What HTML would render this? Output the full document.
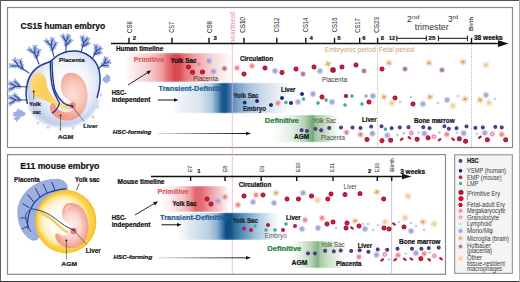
<!DOCTYPE html><html><head><meta charset="utf-8"><style>
html,body{margin:0;padding:0;background:#fff;width:520px;height:282px;overflow:hidden}
svg{display:block}
text{font-family:"Liberation Sans", sans-serif}
</style></head><body>
<svg width="520" height="282" viewBox="0 0 520 282">
<defs>
<radialGradient id="gEry"><stop offset="0" stop-color="#cc2444" stop-opacity="1"/><stop offset="0.5" stop-color="#bc1a3a" stop-opacity="1"/><stop offset="0.72" stop-color="#a8152f" stop-opacity="0.95"/><stop offset="1" stop-color="#a8152f" stop-opacity="0"/></radialGradient>
<radialGradient id="gHsc"><stop offset="0" stop-color="#5a4690" stop-opacity="1"/><stop offset="0.6" stop-color="#4b3a80" stop-opacity="1"/><stop offset="1" stop-color="#4b3a80" stop-opacity="0"/></radialGradient>
<radialGradient id="gYsmp"><stop offset="0" stop-color="#1b2a78" stop-opacity="1"/><stop offset="0.6" stop-color="#1b2a78" stop-opacity="1"/><stop offset="1" stop-color="#1b2a78" stop-opacity="0"/></radialGradient>
<radialGradient id="gEmp"><stop offset="0" stop-color="#c02464" stop-opacity="1"/><stop offset="0.6" stop-color="#b41e5a" stop-opacity="1"/><stop offset="1" stop-color="#b41e5a" stop-opacity="0"/></radialGradient>
<radialGradient id="gLmp"><stop offset="0" stop-color="#3fb0a3" stop-opacity="1"/><stop offset="0.6" stop-color="#3fb0a3" stop-opacity="1"/><stop offset="1" stop-color="#3fb0a3" stop-opacity="0"/></radialGradient>
<radialGradient id="gPrim"><stop offset="0" stop-color="#b8202e" stop-opacity="1"/><stop offset="0.6" stop-color="#a01828" stop-opacity="1"/><stop offset="1" stop-color="#a01828" stop-opacity="0"/></radialGradient>
<radialGradient id="gPrimB"><stop offset="0" stop-color="#e8102c" stop-opacity="1"/><stop offset="0.6" stop-color="#d80c28" stop-opacity="1"/><stop offset="1" stop-color="#d80c28" stop-opacity="0"/></radialGradient>
<radialGradient id="gMk"><stop offset="0" stop-color="#e86c74" stop-opacity="1"/><stop offset="0.45" stop-color="#f0989a" stop-opacity="0.9"/><stop offset="1" stop-color="#f8c8c8" stop-opacity="0"/></radialGradient>
<radialGradient id="gMono"><stop offset="0" stop-color="#9494d0" stop-opacity="1"/><stop offset="0.5" stop-color="#a8a8dc" stop-opacity="0.85"/><stop offset="1" stop-color="#c8c8ec" stop-opacity="0"/></radialGradient>
<radialGradient id="gGran"><stop offset="0" stop-color="#fbe2ee" stop-opacity="1"/><stop offset="0.6" stop-color="#f3b2d0" stop-opacity="0.8"/><stop offset="1" stop-color="#f3b2d0" stop-opacity="0"/></radialGradient>
<radialGradient id="gLym"><stop offset="0" stop-color="#96cde0" stop-opacity="1"/><stop offset="0.6" stop-color="#b6dcea" stop-opacity="0.8"/><stop offset="1" stop-color="#d0ecf4" stop-opacity="0"/></radialGradient>
<radialGradient id="gHof"><stop offset="0" stop-color="#986070" stop-opacity="1"/><stop offset="0.6" stop-color="#b08090" stop-opacity="0.8"/><stop offset="1" stop-color="#d0b0b8" stop-opacity="0"/></radialGradient>
<radialGradient id="gPeach"><stop offset="0" stop-color="#f6d8a8" stop-opacity="0.95"/><stop offset="0.6" stop-color="#f9e4c4" stop-opacity="0.7"/><stop offset="1" stop-color="#fdf0dc" stop-opacity="0"/></radialGradient>
<radialGradient id="gStarG"><stop offset="0" stop-color="#eebf80" stop-opacity="0.75"/><stop offset="0.6" stop-color="#f6dcb4" stop-opacity="0.45"/><stop offset="1" stop-color="#fbe8d4" stop-opacity="0"/></radialGradient>
<radialGradient id="gStarC"><stop offset="0" stop-color="#d39645" stop-opacity="1"/><stop offset="0.6" stop-color="#dca35a" stop-opacity="0.8"/><stop offset="1" stop-color="#e8b070" stop-opacity="0"/></radialGradient>
<radialGradient id="gPeachC"><stop offset="0" stop-color="#ecc07a" stop-opacity="1"/><stop offset="0.6" stop-color="#f0cb90" stop-opacity="0.7"/><stop offset="1" stop-color="#f4d8a8" stop-opacity="0"/></radialGradient>
<linearGradient id="gRedT" x1="0" y1="0" x2="1" y2="0"><stop offset="0" stop-color="#fbe4e4" stop-opacity="0"/><stop offset="0.055" stop-color="#fdeeee" stop-opacity="1"/><stop offset="0.22" stop-color="#f7caca" stop-opacity="1"/><stop offset="0.33" stop-color="#ee9a9c" stop-opacity="1"/><stop offset="0.38" stop-color="#e46e74" stop-opacity="1"/><stop offset="0.445" stop-color="#da4450" stop-opacity="1"/><stop offset="0.49" stop-color="#de4e57" stop-opacity="1"/><stop offset="0.535" stop-color="#e8747a" stop-opacity="1"/><stop offset="0.65" stop-color="#f2a8aa" stop-opacity="1"/><stop offset="0.78" stop-color="#f8d4d4" stop-opacity="1"/><stop offset="0.9" stop-color="#fdf0f0" stop-opacity="1"/><stop offset="1" stop-color="#ffffff" stop-opacity="0"/></linearGradient>
<linearGradient id="gBlueT" x1="0" y1="0" x2="1" y2="0"><stop offset="0" stop-color="#eef3f8" stop-opacity="0"/><stop offset="0.06" stop-color="#eef3f8" stop-opacity="1"/><stop offset="0.22" stop-color="#d8e4ef" stop-opacity="1"/><stop offset="0.31" stop-color="#aec6dc" stop-opacity="1"/><stop offset="0.36" stop-color="#5a8cbc" stop-opacity="1"/><stop offset="0.39" stop-color="#1a5a90" stop-opacity="1"/><stop offset="0.42" stop-color="#165286" stop-opacity="1"/><stop offset="0.45" stop-color="#3a74a8" stop-opacity="1"/><stop offset="0.47" stop-color="#5a8cbc" stop-opacity="1"/><stop offset="0.52" stop-color="#7ea6cc" stop-opacity="1"/><stop offset="0.6" stop-color="#a6c2dc" stop-opacity="1"/><stop offset="0.72" stop-color="#d0dde9" stop-opacity="1"/><stop offset="0.85" stop-color="#eef3f8" stop-opacity="1"/><stop offset="1" stop-color="#ffffff" stop-opacity="0"/></linearGradient>
<linearGradient id="gGreenT" x1="0" y1="0" x2="1" y2="0"><stop offset="0" stop-color="#ffffff" stop-opacity="0"/><stop offset="0.167" stop-color="#f3f8f2" stop-opacity="1"/><stop offset="0.347" stop-color="#e0ecdf" stop-opacity="1"/><stop offset="0.514" stop-color="#b4d0b2" stop-opacity="1"/><stop offset="0.597" stop-color="#80b185" stop-opacity="1"/><stop offset="0.625" stop-color="#72a77a" stop-opacity="1"/><stop offset="0.653" stop-color="#a0c4a0" stop-opacity="1"/><stop offset="0.792" stop-color="#c8dcc4" stop-opacity="1"/><stop offset="0.931" stop-color="#eef4ec" stop-opacity="1"/><stop offset="1" stop-color="#ffffff" stop-opacity="0"/></linearGradient>
<linearGradient id="gRedM" x1="0" y1="0" x2="1" y2="0"><stop offset="0" stop-color="#ffffff" stop-opacity="0"/><stop offset="0.2" stop-color="#fcecec" stop-opacity="1"/><stop offset="0.35" stop-color="#f5c8ca" stop-opacity="1"/><stop offset="0.45" stop-color="#ee9ca0" stop-opacity="1"/><stop offset="0.52" stop-color="#e2646e" stop-opacity="1"/><stop offset="0.6" stop-color="#e46c74" stop-opacity="1"/><stop offset="0.7" stop-color="#ec9a9e" stop-opacity="1"/><stop offset="0.85" stop-color="#f6d0d2" stop-opacity="1"/><stop offset="1" stop-color="#ffffff" stop-opacity="0"/></linearGradient>
<linearGradient id="gBlueM" x1="0" y1="0" x2="1" y2="0"><stop offset="0" stop-color="#e8eff5" stop-opacity="0"/><stop offset="0.12" stop-color="#e0eaf2" stop-opacity="1"/><stop offset="0.3" stop-color="#bcd0e2" stop-opacity="1"/><stop offset="0.38" stop-color="#8fb0d0" stop-opacity="1"/><stop offset="0.43" stop-color="#3f78aa" stop-opacity="1"/><stop offset="0.465" stop-color="#0e4c82" stop-opacity="1"/><stop offset="0.51" stop-color="#125289" stop-opacity="1"/><stop offset="0.545" stop-color="#2c6c9c" stop-opacity="1"/><stop offset="0.62" stop-color="#5890bc" stop-opacity="1"/><stop offset="0.72" stop-color="#96bcd6" stop-opacity="1"/><stop offset="0.86" stop-color="#d8e8f0" stop-opacity="1"/><stop offset="1" stop-color="#ffffff" stop-opacity="0"/></linearGradient>
<linearGradient id="gGreenM" x1="0" y1="0" x2="1" y2="0"><stop offset="0" stop-color="#ffffff" stop-opacity="0"/><stop offset="0.133" stop-color="#f2f7f1" stop-opacity="1"/><stop offset="0.25" stop-color="#dbe9d7" stop-opacity="1"/><stop offset="0.367" stop-color="#bdd7ba" stop-opacity="1"/><stop offset="0.467" stop-color="#8fbd92" stop-opacity="1"/><stop offset="0.5" stop-color="#82b487" stop-opacity="1"/><stop offset="0.533" stop-color="#a6caa4" stop-opacity="1"/><stop offset="0.683" stop-color="#cfe1cb" stop-opacity="1"/><stop offset="0.833" stop-color="#e9f1e7" stop-opacity="1"/><stop offset="1" stop-color="#ffffff" stop-opacity="0"/></linearGradient>
<linearGradient id="gV" x1="0" y1="0" x2="0" y2="1"><stop offset="0" stop-color="#fff" stop-opacity="0.6"/><stop offset="0.06" stop-color="#fff" stop-opacity="1"/><stop offset="0.94" stop-color="#fff" stop-opacity="1"/><stop offset="1" stop-color="#fff" stop-opacity="0.6"/></linearGradient>
<mask id="mV" maskContentUnits="objectBoundingBox"><rect x="0" y="0" width="1" height="1" fill="url(#gV)"/></mask>
<radialGradient id="gSac" cx="0.55" cy="0.45" r="0.55"><stop offset="0" stop-color="#ffffff"/><stop offset="0.55" stop-color="#f2f5fc"/><stop offset="0.82" stop-color="#d9e1f4"/><stop offset="1" stop-color="#bfcbea"/></radialGradient>
<radialGradient id="gEmb" cx="0.62" cy="0.45" r="0.62"><stop offset="0" stop-color="#fbe0d8"/><stop offset="0.45" stop-color="#f8c6b8"/><stop offset="0.8" stop-color="#f3a08c"/><stop offset="1" stop-color="#f29a86"/></radialGradient>
<radialGradient id="gYolk"><stop offset="0" stop-color="#f8cd58" stop-opacity="1"/><stop offset="0.7" stop-color="#f9d264" stop-opacity="1"/><stop offset="1" stop-color="#fada80" stop-opacity="1"/></radialGradient>
<radialGradient id="gMYolk"><stop offset="0" stop-color="#ffffff" stop-opacity="1"/><stop offset="0.55" stop-color="#fffbf0" stop-opacity="1"/><stop offset="0.8" stop-color="#fdf1c8" stop-opacity="1"/><stop offset="0.93" stop-color="#fce48a" stop-opacity="1"/><stop offset="1" stop-color="#fbd85a" stop-opacity="1"/></radialGradient>
<radialGradient id="gMRing"><stop offset="0" stop-color="#fde070" stop-opacity="1"/><stop offset="0.85" stop-color="#fbd548" stop-opacity="1"/><stop offset="1" stop-color="#f7c63a" stop-opacity="1"/></radialGradient>
<radialGradient id="gMEmb"><stop offset="0" stop-color="#fef0ec" stop-opacity="1"/><stop offset="0.5" stop-color="#fbd8d0" stop-opacity="1"/><stop offset="0.8" stop-color="#f5b4a6" stop-opacity="1"/><stop offset="1" stop-color="#f19c8a" stop-opacity="1"/></radialGradient>
<filter id="fb0" x="-50%" y="-50%" width="200%" height="200%"><feGaussianBlur stdDeviation="0.35"/></filter>
<filter id="fb1" x="-50%" y="-50%" width="200%" height="200%"><feGaussianBlur stdDeviation="0.8"/></filter>
<linearGradient id="gArr" x1="0" y1="0" x2="1" y2="0"><stop offset="0" stop-color="#dddddd" stop-opacity="1"/><stop offset="0.5" stop-color="#777777" stop-opacity="1"/><stop offset="1" stop-color="#111111" stop-opacity="1"/></linearGradient>
</defs>
<rect x="0" y="0" width="520" height="282" fill="#fff"/>
<line x1="0" y1="0.5" x2="520" y2="0.5" stroke="#505050" stroke-width="1"/>
<line x1="0.5" y1="0" x2="0.5" y2="282" stroke="#606060" stroke-width="1"/>
<line x1="0" y1="281.5" x2="520" y2="281.5" stroke="#404040" stroke-width="1"/>
<line x1="519.5" y1="0" x2="519.5" y2="282" stroke="#b0b0b0" stroke-width="1"/>
<rect x="7.5" y="7.5" width="505" height="140" fill="#fff" stroke="#8a8a8a" stroke-width="1.2"/>
<rect x="7.5" y="154.6" width="438" height="119.7" fill="#fff" stroke="#8a8a8a" stroke-width="1.2"/>
<rect x="454.6" y="154.8" width="57.8" height="118.6" fill="#f4f4f4" stroke="#9a9a9a" stroke-width="1.2"/>
<text x="20.6" y="29.2" font-size="9.4" font-weight="bold" font-style="normal" fill="#111" text-anchor="start" textLength="84.6" lengthAdjust="spacingAndGlyphs" stroke="#111" stroke-width="0.22">CS15 human embryo</text>
<rect x="126" y="53" width="110" height="29" fill="url(#gRedT)" mask="url(#mV)"/>
<rect x="172" y="82.5" width="128" height="31" fill="url(#gBlueT)" mask="url(#mV)"/>
<rect x="268" y="114.7" width="72" height="27.8" fill="url(#gGreenT)" mask="url(#mV)"/>
<line x1="232.3" y1="44" x2="232.3" y2="274" stroke="#eab0c4" stroke-width="0.8"/>
<text transform="translate(234.8,44) rotate(-90)" font-size="6.8" font-weight="normal" fill="#ee8fae" stroke="#ee8fae" stroke-width="0" textLength="32" lengthAdjust="spacingAndGlyphs">heartbeat</text>
<line x1="377.6" y1="44" x2="377.6" y2="147" stroke="#c8b890" stroke-width="0.9" stroke-dasharray="1,1"/>
<line x1="471.5" y1="44" x2="471.5" y2="147" stroke="#9aa8c8" stroke-width="0.8" stroke-dasharray="1,1"/>
<line x1="111" y1="43.6" x2="503" y2="43.6" stroke="#111" stroke-width="1.5"/>
<path d="M498,40.2 L508.5,43.6 L498,47 Z" fill="#111"/>
<line x1="129" y1="37.8" x2="129" y2="43.6" stroke="#111" stroke-width="1.4"/>
<line x1="172" y1="37.8" x2="172" y2="43.6" stroke="#111" stroke-width="1.4"/>
<line x1="209" y1="37.8" x2="209" y2="43.6" stroke="#111" stroke-width="1.4"/>
<line x1="244" y1="37.8" x2="244" y2="43.6" stroke="#111" stroke-width="1.4"/>
<line x1="276.8" y1="37.8" x2="276.8" y2="43.6" stroke="#111" stroke-width="1.4"/>
<line x1="305.8" y1="37.8" x2="305.8" y2="43.6" stroke="#111" stroke-width="1.4"/>
<line x1="334.5" y1="37.8" x2="334.5" y2="43.6" stroke="#111" stroke-width="1.4"/>
<line x1="359.7" y1="37.8" x2="359.7" y2="43.6" stroke="#111" stroke-width="1.4"/>
<line x1="377.6" y1="37.8" x2="377.6" y2="43.6" stroke="#111" stroke-width="1.4"/>
<line x1="471.5" y1="37.8" x2="471.5" y2="43.6" stroke="#111" stroke-width="1.4"/>
<text transform="translate(132.2,33) rotate(-90)" font-size="6.3" font-weight="normal" fill="#2a2a2a" stroke="#2a2a2a" stroke-width="0.04" textLength="11.8" lengthAdjust="spacingAndGlyphs">CS6</text>
<text transform="translate(174.3,32.7) rotate(-90)" font-size="6.3" font-weight="normal" fill="#2a2a2a" stroke="#2a2a2a" stroke-width="0.04" textLength="10.7" lengthAdjust="spacingAndGlyphs">CS7</text>
<text transform="translate(212.1,33) rotate(-90)" font-size="6.3" font-weight="normal" fill="#2a2a2a" stroke="#2a2a2a" stroke-width="0.04" textLength="11.8" lengthAdjust="spacingAndGlyphs">CS8</text>
<text transform="translate(245.4,32.7) rotate(-90)" font-size="6.3" font-weight="normal" fill="#2a2a2a" stroke="#2a2a2a" stroke-width="0.04" textLength="15.7" lengthAdjust="spacingAndGlyphs">CS10</text>
<text transform="translate(279.2,32.3) rotate(-90)" font-size="6.3" font-weight="normal" fill="#2a2a2a" stroke="#2a2a2a" stroke-width="0.04" textLength="14.6" lengthAdjust="spacingAndGlyphs">CS12</text>
<text transform="translate(308,32.3) rotate(-90)" font-size="6.3" font-weight="normal" fill="#2a2a2a" stroke="#2a2a2a" stroke-width="0.04" textLength="14.6" lengthAdjust="spacingAndGlyphs">CS14</text>
<text transform="translate(336.5,32.3) rotate(-90)" font-size="6.3" font-weight="normal" fill="#2a2a2a" stroke="#2a2a2a" stroke-width="0.04" textLength="14.6" lengthAdjust="spacingAndGlyphs">CS16</text>
<text transform="translate(360.1,32.7) rotate(-90)" font-size="6.3" font-weight="normal" fill="#2a2a2a" stroke="#2a2a2a" stroke-width="0.04" textLength="14.4" lengthAdjust="spacingAndGlyphs">CS17</text>
<text transform="translate(378.5,32.7) rotate(-90)" font-size="6.3" font-weight="normal" fill="#2a2a2a" stroke="#2a2a2a" stroke-width="0.04" textLength="15.7" lengthAdjust="spacingAndGlyphs">CS23</text>
<text transform="translate(472.5,31.1) rotate(-90)" font-size="6.2" font-weight="bold" fill="#555" stroke="#555" stroke-width="0.12" textLength="14.4" lengthAdjust="spacingAndGlyphs">Birth</text>
<text x="132.8" y="40.3" font-size="6.2" font-weight="bold" font-style="normal" fill="#111" text-anchor="start" textLength="3.3" lengthAdjust="spacingAndGlyphs" stroke="#111" stroke-width="0.22">2</text>
<text x="213.4" y="40.3" font-size="6.2" font-weight="bold" font-style="normal" fill="#111" text-anchor="start" textLength="3.3" lengthAdjust="spacingAndGlyphs" stroke="#111" stroke-width="0.22">3</text>
<text x="309.6" y="40.3" font-size="6.2" font-weight="bold" font-style="normal" fill="#111" text-anchor="start" textLength="3.3" lengthAdjust="spacingAndGlyphs" stroke="#111" stroke-width="0.22">4</text>
<text x="337.3" y="40.3" font-size="6.2" font-weight="bold" font-style="normal" fill="#111" text-anchor="start" textLength="3.3" lengthAdjust="spacingAndGlyphs" stroke="#111" stroke-width="0.22">5</text>
<text x="362.2" y="40.3" font-size="6.2" font-weight="bold" font-style="normal" fill="#111" text-anchor="start" textLength="3.2" lengthAdjust="spacingAndGlyphs" stroke="#111" stroke-width="0.22">6</text>
<text x="380.8" y="40.3" font-size="6.2" font-weight="bold" font-style="normal" fill="#111" text-anchor="start" textLength="3.2" lengthAdjust="spacingAndGlyphs" stroke="#111" stroke-width="0.22">8</text>
<text x="389" y="40.3" font-size="6.2" font-weight="bold" font-style="normal" fill="#111" text-anchor="start" textLength="6.0" lengthAdjust="spacingAndGlyphs" stroke="#111" stroke-width="0.22">12</text>
<text x="428.5" y="40.3" font-size="6.2" font-weight="bold" font-style="normal" fill="#111" text-anchor="start" textLength="6.8" lengthAdjust="spacingAndGlyphs" stroke="#111" stroke-width="0.22">25</text>
<text x="473.9" y="40.3" font-size="6.3" font-weight="bold" font-style="normal" fill="#111" text-anchor="start" textLength="28.9" lengthAdjust="spacingAndGlyphs" stroke="#111" stroke-width="0.22">38 weeks</text>
<line x1="396.8" y1="38.3" x2="426.3" y2="38.3" stroke="#111" stroke-width="1"/>
<line x1="396.8" y1="35.6" x2="396.8" y2="41" stroke="#111" stroke-width="1"/>
<line x1="426.3" y1="35.6" x2="426.3" y2="41" stroke="#111" stroke-width="1"/>
<line x1="438.4" y1="38.3" x2="467.4" y2="38.3" stroke="#111" stroke-width="1"/>
<line x1="438.4" y1="35.6" x2="438.4" y2="41" stroke="#111" stroke-width="1"/>
<line x1="467.4" y1="35.6" x2="467.4" y2="41" stroke="#111" stroke-width="1"/>
<text x="407" y="22.1" font-size="8.8" font-weight="normal" font-style="normal" fill="#333" text-anchor="start" textLength="4.8" lengthAdjust="spacingAndGlyphs">2</text>
<text x="412" y="19.3" font-size="6.0" font-weight="normal" font-style="normal" fill="#333" text-anchor="start" textLength="7.3" lengthAdjust="spacingAndGlyphs">nd</text>
<text x="447.9" y="22.1" font-size="8.8" font-weight="normal" font-style="normal" fill="#333" text-anchor="start" textLength="4.6" lengthAdjust="spacingAndGlyphs">3</text>
<text x="452.4" y="19.3" font-size="6.0" font-weight="normal" font-style="normal" fill="#333" text-anchor="start" textLength="5.8" lengthAdjust="spacingAndGlyphs">rd</text>
<text x="414.8" y="29.7" font-size="8.6" font-weight="normal" font-style="normal" fill="#333" text-anchor="start" textLength="33.8" lengthAdjust="spacingAndGlyphs">trimester</text>
<text x="116" y="51" font-size="6.3" font-weight="bold" font-style="normal" fill="#111" text-anchor="start" textLength="47.2" lengthAdjust="spacingAndGlyphs" stroke="#111" stroke-width="0.22">Human timeline</text>
<text x="324.8" y="51.5" font-size="6.7" font-weight="normal" font-style="normal" fill="#c9a06c" text-anchor="start" textLength="51" lengthAdjust="spacingAndGlyphs">Embryonic period</text>
<text x="378.7" y="51.5" font-size="6.7" font-weight="normal" font-style="normal" fill="#c9a06c" text-anchor="start" textLength="35.5" lengthAdjust="spacingAndGlyphs">Fetal period</text>
<text x="133.8" y="62.1" font-size="7.3" font-weight="bold" font-style="normal" fill="#e05862" text-anchor="start" textLength="30.5" lengthAdjust="spacingAndGlyphs" stroke="#e05862" stroke-width="0.22">Primitive</text>
<text x="170.4" y="62.8" font-size="6.3" font-weight="bold" font-style="normal" fill="#111" text-anchor="start" textLength="26.2" lengthAdjust="spacingAndGlyphs" stroke="#111" stroke-width="0.22">Yolk Sac</text>
<text x="193" y="80.5" font-size="6.3" font-weight="normal" font-style="normal" fill="#4a3035" text-anchor="start" textLength="25" lengthAdjust="spacingAndGlyphs">Placenta</text>
<text x="240" y="61.2" font-size="6.6" font-weight="bold" font-style="normal" fill="#111" text-anchor="start" textLength="33" lengthAdjust="spacingAndGlyphs" stroke="#111" stroke-width="0.22">Circulation</text>
<text x="322" y="81.5" font-size="6.3" font-weight="normal" font-style="normal" fill="#333" text-anchor="start" textLength="25" lengthAdjust="spacingAndGlyphs">Placenta</text>
<text x="111.8" y="94.7" font-size="6.7" font-weight="bold" font-style="normal" fill="#111" text-anchor="start" textLength="14.4" lengthAdjust="spacingAndGlyphs" stroke="#111" stroke-width="0.22">HSC-</text>
<text x="111.8" y="101.6" font-size="6.4" font-weight="bold" font-style="normal" fill="#111" text-anchor="start" textLength="38.5" lengthAdjust="spacingAndGlyphs" stroke="#111" stroke-width="0.22">independent</text>
<line x1="158" y1="100" x2="175" y2="100" stroke="#111" stroke-width="1"/>
<path d="M174,98.2 L178.5,100 L174,101.8 Z" fill="#111"/>
<text x="158.5" y="91" font-size="7.3" font-weight="bold" font-style="normal" fill="#1f5d96" text-anchor="start" textLength="69" lengthAdjust="spacingAndGlyphs" stroke="#1f5d96" stroke-width="0.22">Transient-Definitive</text>
<text x="233.5" y="98.3" font-size="6.3" font-weight="bold" font-style="normal" fill="#1c2433" text-anchor="start" textLength="25" lengthAdjust="spacingAndGlyphs" stroke="#1c2433" stroke-width="0.22">Yolk Sac</text>
<text x="243" y="111" font-size="6.3" font-weight="bold" font-style="normal" fill="#1c2433" text-anchor="start" textLength="23" lengthAdjust="spacingAndGlyphs" stroke="#1c2433" stroke-width="0.22">Embryo</text>
<text x="281" y="92.3" font-size="6.6" font-weight="bold" font-style="normal" fill="#111" text-anchor="start" textLength="14.4" lengthAdjust="spacingAndGlyphs" stroke="#111" stroke-width="0.22">Liver</text>
<text x="112.8" y="134.1" font-size="6.1" font-weight="bold" font-style="italic" fill="#111" text-anchor="start" textLength="38.5" lengthAdjust="spacingAndGlyphs" stroke="#111" stroke-width="0.22">HSC-forming</text>
<rect x="158" y="133" width="89" height="1" fill="url(#gArr)"/>
<path d="M246,131.7 L251,133.5 L246,135.3 Z" fill="#111"/>
<text x="264.8" y="122.5" font-size="7.3" font-weight="bold" font-style="normal" fill="#1f7d40" text-anchor="start" textLength="34" lengthAdjust="spacingAndGlyphs" stroke="#1f7d40" stroke-width="0.22">Definitive</text>
<text x="294" y="138.6" font-size="6.6" font-weight="bold" font-style="normal" fill="#111" text-anchor="start" textLength="15" lengthAdjust="spacingAndGlyphs" stroke="#111" stroke-width="0.22">AGM</text>
<text x="313" y="122.5" font-size="6.3" font-weight="normal" font-style="normal" fill="#3c4a3c" text-anchor="start" textLength="23" lengthAdjust="spacingAndGlyphs">Yolk Sac</text>
<text x="321" y="140.4" font-size="6.3" font-weight="normal" font-style="normal" fill="#444" text-anchor="start" textLength="24" lengthAdjust="spacingAndGlyphs">Placenta</text>
<text x="362" y="122.3" font-size="6.6" font-weight="bold" font-style="normal" fill="#111" text-anchor="start" textLength="14.5" lengthAdjust="spacingAndGlyphs" stroke="#111" stroke-width="0.22">Liver</text>
<text x="414" y="123" font-size="6.6" font-weight="bold" font-style="normal" fill="#111" text-anchor="start" textLength="40.6" lengthAdjust="spacingAndGlyphs" stroke="#111" stroke-width="0.22">Bone marrow</text>
<line x1="128" y1="85" x2="148.5" y2="72" stroke="#111" stroke-width="0.9"/>
<path d="M151,70.3 L146.3,71.4 L148.6,74.6 Z" fill="#111"/>
<circle cx="188.5" cy="67" r="2.95" fill="url(#gEry)"/>
<circle cx="192.5" cy="72.2" r="2.95" fill="url(#gEry)"/>
<circle cx="202.5" cy="72" r="2.95" fill="url(#gEry)"/>
<circle cx="199" cy="64" r="3.9" fill="url(#gMk)"/>
<circle cx="209" cy="61" r="3.9" fill="url(#gMono)"/>
<circle cx="213.5" cy="71.5" r="3.9" fill="url(#gMono)"/>
<circle cx="224.5" cy="68.5" r="3.3" fill="url(#gHof)"/>
<circle cx="237" cy="68" r="3.9" fill="url(#gMk)"/>
<circle cx="244" cy="74" r="2.95" fill="url(#gEry)"/>
<circle cx="252" cy="66" r="3.9" fill="url(#gMk)"/>
<circle cx="265" cy="68" r="2.95" fill="url(#gEry)"/>
<circle cx="275" cy="71" r="3.9" fill="url(#gMono)"/>
<circle cx="282" cy="72.5" r="2.95" fill="url(#gEry)"/>
<circle cx="296" cy="69" r="2.95" fill="url(#gEry)"/>
<circle cx="303" cy="74" r="3.3" fill="url(#gHof)"/>
<circle cx="314" cy="67" r="2.95" fill="url(#gEry)"/>
<circle cx="320" cy="71" r="3.9" fill="url(#gMono)"/>
<circle cx="328" cy="64" r="4" fill="url(#gStarG)"/>
<line x1="325.06" y1="62.30" x2="330.94" y2="65.70" stroke="#d99a52" stroke-width="0.8" stroke-linecap="round" opacity="0.5"/>
<line x1="327.41" y1="60.65" x2="328.59" y2="67.35" stroke="#d99a52" stroke-width="0.8" stroke-linecap="round" opacity="0.5"/>
<line x1="330.40" y1="61.60" x2="325.60" y2="66.40" stroke="#d99a52" stroke-width="0.8" stroke-linecap="round" opacity="0.5"/>
<line x1="331.28" y1="63.12" x2="324.72" y2="64.88" stroke="#d99a52" stroke-width="0.8" stroke-linecap="round" opacity="0.5"/>
<circle cx="328" cy="64" r="1.8" fill="url(#gStarC)"/>
<circle cx="333" cy="70" r="3.6" fill="url(#gPrim)"/>
<circle cx="342" cy="67" r="2.95" fill="url(#gEry)"/>
<circle cx="356" cy="65" r="2.95" fill="url(#gEry)"/>
<circle cx="364" cy="71" r="3.3" fill="url(#gHof)"/>
<circle cx="382" cy="69" r="2.95" fill="url(#gEry)"/>
<circle cx="389" cy="63" r="4" fill="url(#gStarG)"/>
<line x1="386.06" y1="61.30" x2="391.94" y2="64.70" stroke="#d99a52" stroke-width="0.8" stroke-linecap="round" opacity="0.5"/>
<line x1="388.41" y1="59.65" x2="389.59" y2="66.35" stroke="#d99a52" stroke-width="0.8" stroke-linecap="round" opacity="0.5"/>
<line x1="391.40" y1="60.60" x2="386.60" y2="65.40" stroke="#d99a52" stroke-width="0.8" stroke-linecap="round" opacity="0.5"/>
<line x1="392.28" y1="62.12" x2="385.72" y2="63.88" stroke="#d99a52" stroke-width="0.8" stroke-linecap="round" opacity="0.5"/>
<circle cx="389" cy="63" r="1.8" fill="url(#gStarC)"/>
<circle cx="405" cy="69" r="3.3" fill="url(#gHof)"/>
<circle cx="429" cy="63" r="4" fill="url(#gStarG)"/>
<line x1="426.06" y1="61.30" x2="431.94" y2="64.70" stroke="#d99a52" stroke-width="0.8" stroke-linecap="round" opacity="0.5"/>
<line x1="428.41" y1="59.65" x2="429.59" y2="66.35" stroke="#d99a52" stroke-width="0.8" stroke-linecap="round" opacity="0.5"/>
<line x1="431.40" y1="60.60" x2="426.60" y2="65.40" stroke="#d99a52" stroke-width="0.8" stroke-linecap="round" opacity="0.5"/>
<line x1="432.28" y1="62.12" x2="425.72" y2="63.88" stroke="#d99a52" stroke-width="0.8" stroke-linecap="round" opacity="0.5"/>
<circle cx="429" cy="63" r="1.8" fill="url(#gStarC)"/>
<circle cx="442" cy="70" r="3.3" fill="url(#gHof)"/>
<circle cx="463" cy="62" r="4" fill="url(#gStarG)"/>
<line x1="460.06" y1="60.30" x2="465.94" y2="63.70" stroke="#d99a52" stroke-width="0.8" stroke-linecap="round" opacity="0.5"/>
<line x1="462.41" y1="58.65" x2="463.59" y2="65.35" stroke="#d99a52" stroke-width="0.8" stroke-linecap="round" opacity="0.5"/>
<line x1="465.40" y1="59.60" x2="460.60" y2="64.40" stroke="#d99a52" stroke-width="0.8" stroke-linecap="round" opacity="0.5"/>
<line x1="466.28" y1="61.12" x2="459.72" y2="62.88" stroke="#d99a52" stroke-width="0.8" stroke-linecap="round" opacity="0.5"/>
<circle cx="463" cy="62" r="1.8" fill="url(#gStarC)"/>
<circle cx="486" cy="65" r="4.4" fill="url(#gPeach)"/>
<line x1="483.06" y1="63.30" x2="488.94" y2="66.70" stroke="#ebc080" stroke-width="0.8" stroke-linecap="round" opacity="0.4"/>
<line x1="485.41" y1="61.65" x2="486.59" y2="68.35" stroke="#ebc080" stroke-width="0.8" stroke-linecap="round" opacity="0.4"/>
<line x1="488.40" y1="62.60" x2="483.60" y2="67.40" stroke="#ebc080" stroke-width="0.8" stroke-linecap="round" opacity="0.4"/>
<line x1="489.28" y1="64.12" x2="482.72" y2="65.88" stroke="#ebc080" stroke-width="0.8" stroke-linecap="round" opacity="0.4"/>
<circle cx="486" cy="65" r="1.8" fill="url(#gPeachC)"/>
<circle cx="244.6" cy="102.6" r="2.4" fill="url(#gYsmp)"/>
<circle cx="257" cy="101" r="2.4" fill="url(#gYsmp)"/>
<circle cx="271" cy="105" r="2.4" fill="url(#gYsmp)"/>
<circle cx="278" cy="103" r="3.9" fill="url(#gMk)"/>
<circle cx="282" cy="98" r="2.4" fill="url(#gYsmp)"/>
<circle cx="286" cy="102.5" r="2.2" fill="url(#gLmp)"/>
<circle cx="291" cy="103" r="2.4" fill="url(#gYsmp)"/>
<circle cx="298" cy="102" r="3.9" fill="url(#gMono)"/>
<circle cx="302" cy="94" r="2.4" fill="url(#gYsmp)"/>
<circle cx="303.5" cy="99" r="2.2" fill="url(#gLmp)"/>
<circle cx="313" cy="94" r="3.9" fill="url(#gMono)"/>
<circle cx="322" cy="97" r="2.95" fill="url(#gEry)"/>
<circle cx="318" cy="103" r="2.2" fill="url(#gLmp)"/>
<circle cx="326" cy="100" r="2.2" fill="url(#gLmp)"/>
<circle cx="332" cy="102" r="3.9" fill="url(#gMono)"/>
<circle cx="346" cy="96" r="2.5" fill="url(#gEry)"/>
<circle cx="345" cy="105" r="2.2" fill="url(#gLmp)"/>
<circle cx="352" cy="96" r="2.2" fill="url(#gLmp)"/>
<circle cx="362" cy="104" r="2.2" fill="url(#gLmp)"/>
<circle cx="366" cy="96" r="2.6" fill="url(#gMono)"/>
<circle cx="369" cy="102" r="2.95" fill="url(#gEry)"/>
<circle cx="373" cy="96" r="3.9" fill="url(#gMono)"/>
<circle cx="384" cy="97" r="4" fill="url(#gStarG)"/>
<line x1="381.06" y1="95.30" x2="386.94" y2="98.70" stroke="#d99a52" stroke-width="0.8" stroke-linecap="round" opacity="0.5"/>
<line x1="383.41" y1="93.65" x2="384.59" y2="100.35" stroke="#d99a52" stroke-width="0.8" stroke-linecap="round" opacity="0.5"/>
<line x1="386.40" y1="94.60" x2="381.60" y2="99.40" stroke="#d99a52" stroke-width="0.8" stroke-linecap="round" opacity="0.5"/>
<line x1="387.28" y1="96.12" x2="380.72" y2="97.88" stroke="#d99a52" stroke-width="0.8" stroke-linecap="round" opacity="0.5"/>
<circle cx="384" cy="97" r="1.8" fill="url(#gStarC)"/>
<circle cx="395" cy="98" r="2.95" fill="url(#gEry)"/>
<circle cx="392" cy="103" r="4.4" fill="url(#gPeach)"/>
<line x1="389.06" y1="101.30" x2="394.94" y2="104.70" stroke="#ebc080" stroke-width="0.8" stroke-linecap="round" opacity="0.4"/>
<line x1="391.41" y1="99.65" x2="392.59" y2="106.35" stroke="#ebc080" stroke-width="0.8" stroke-linecap="round" opacity="0.4"/>
<line x1="394.40" y1="100.60" x2="389.60" y2="105.40" stroke="#ebc080" stroke-width="0.8" stroke-linecap="round" opacity="0.4"/>
<line x1="395.28" y1="102.12" x2="388.72" y2="103.88" stroke="#ebc080" stroke-width="0.8" stroke-linecap="round" opacity="0.4"/>
<circle cx="392" cy="103" r="1.8" fill="url(#gPeachC)"/>
<circle cx="400" cy="102" r="2.0" fill="url(#gLym)"/>
<circle cx="411" cy="97" r="2.0" fill="url(#gLym)"/>
<circle cx="413" cy="104" r="2.95" fill="url(#gEry)"/>
<circle cx="423" cy="104" r="3.9" fill="url(#gMono)"/>
<circle cx="430" cy="97" r="4" fill="url(#gStarG)"/>
<line x1="427.06" y1="95.30" x2="432.94" y2="98.70" stroke="#d99a52" stroke-width="0.8" stroke-linecap="round" opacity="0.5"/>
<line x1="429.41" y1="93.65" x2="430.59" y2="100.35" stroke="#d99a52" stroke-width="0.8" stroke-linecap="round" opacity="0.5"/>
<line x1="432.40" y1="94.60" x2="427.60" y2="99.40" stroke="#d99a52" stroke-width="0.8" stroke-linecap="round" opacity="0.5"/>
<line x1="433.28" y1="96.12" x2="426.72" y2="97.88" stroke="#d99a52" stroke-width="0.8" stroke-linecap="round" opacity="0.5"/>
<circle cx="430" cy="97" r="1.8" fill="url(#gStarC)"/>
<circle cx="438" cy="103" r="2.0" fill="url(#gLym)"/>
<circle cx="447" cy="100" r="3.9" fill="url(#gMono)"/>
<circle cx="453" cy="106" r="4.4" fill="url(#gPeach)"/>
<line x1="450.06" y1="104.30" x2="455.94" y2="107.70" stroke="#ebc080" stroke-width="0.8" stroke-linecap="round" opacity="0.4"/>
<line x1="452.41" y1="102.65" x2="453.59" y2="109.35" stroke="#ebc080" stroke-width="0.8" stroke-linecap="round" opacity="0.4"/>
<line x1="455.40" y1="103.60" x2="450.60" y2="108.40" stroke="#ebc080" stroke-width="0.8" stroke-linecap="round" opacity="0.4"/>
<line x1="456.28" y1="105.12" x2="449.72" y2="106.88" stroke="#ebc080" stroke-width="0.8" stroke-linecap="round" opacity="0.4"/>
<circle cx="453" cy="106" r="1.8" fill="url(#gPeachC)"/>
<circle cx="458" cy="96" r="2.0" fill="url(#gLym)"/>
<circle cx="465" cy="99" r="4" fill="url(#gStarG)"/>
<line x1="462.06" y1="97.30" x2="467.94" y2="100.70" stroke="#d99a52" stroke-width="0.8" stroke-linecap="round" opacity="0.5"/>
<line x1="464.41" y1="95.65" x2="465.59" y2="102.35" stroke="#d99a52" stroke-width="0.8" stroke-linecap="round" opacity="0.5"/>
<line x1="467.40" y1="96.60" x2="462.60" y2="101.40" stroke="#d99a52" stroke-width="0.8" stroke-linecap="round" opacity="0.5"/>
<line x1="468.28" y1="98.12" x2="461.72" y2="99.88" stroke="#d99a52" stroke-width="0.8" stroke-linecap="round" opacity="0.5"/>
<circle cx="465" cy="99" r="1.8" fill="url(#gStarC)"/>
<circle cx="480" cy="100" r="4" fill="url(#gStarG)"/>
<line x1="477.06" y1="98.30" x2="482.94" y2="101.70" stroke="#d99a52" stroke-width="0.8" stroke-linecap="round" opacity="0.5"/>
<line x1="479.41" y1="96.65" x2="480.59" y2="103.35" stroke="#d99a52" stroke-width="0.8" stroke-linecap="round" opacity="0.5"/>
<line x1="482.40" y1="97.60" x2="477.60" y2="102.40" stroke="#d99a52" stroke-width="0.8" stroke-linecap="round" opacity="0.5"/>
<line x1="483.28" y1="99.12" x2="476.72" y2="100.88" stroke="#d99a52" stroke-width="0.8" stroke-linecap="round" opacity="0.5"/>
<circle cx="480" cy="100" r="1.8" fill="url(#gStarC)"/>
<circle cx="486" cy="95" r="3.9" fill="url(#gMono)"/>
<circle cx="489" cy="103" r="4.4" fill="url(#gPeach)"/>
<line x1="486.06" y1="101.30" x2="491.94" y2="104.70" stroke="#ebc080" stroke-width="0.8" stroke-linecap="round" opacity="0.4"/>
<line x1="488.41" y1="99.65" x2="489.59" y2="106.35" stroke="#ebc080" stroke-width="0.8" stroke-linecap="round" opacity="0.4"/>
<line x1="491.40" y1="100.60" x2="486.60" y2="105.40" stroke="#ebc080" stroke-width="0.8" stroke-linecap="round" opacity="0.4"/>
<line x1="492.28" y1="102.12" x2="485.72" y2="103.88" stroke="#ebc080" stroke-width="0.8" stroke-linecap="round" opacity="0.4"/>
<circle cx="489" cy="103" r="1.8" fill="url(#gPeachC)"/>
<circle cx="495" cy="99" r="2.0" fill="url(#gLym)"/>
<circle cx="346.5" cy="132.5" r="3.9" fill="url(#gMk)"/>
<circle cx="360.5" cy="134.5" r="3.9" fill="url(#gMk)"/>
<circle cx="446.8" cy="134.4" r="3.9" fill="url(#gMk)"/>
<circle cx="501.7" cy="134.4" r="3.9" fill="url(#gMk)"/>
<circle cx="372.4" cy="133.5" r="3.9" fill="url(#gMono)"/>
<circle cx="387.3" cy="135.4" r="3.9" fill="url(#gMono)"/>
<circle cx="424.3" cy="133.5" r="3.9" fill="url(#gMono)"/>
<circle cx="463.7" cy="133.2" r="3.9" fill="url(#gMono)"/>
<circle cx="484.8" cy="132.9" r="3.9" fill="url(#gMono)"/>
<circle cx="397.4" cy="134.9" r="2.0" fill="url(#gLym)"/>
<circle cx="403.7" cy="133.5" r="2.0" fill="url(#gLym)"/>
<circle cx="418.5" cy="132.5" r="2.0" fill="url(#gLym)"/>
<circle cx="439.2" cy="132.5" r="2.0" fill="url(#gLym)"/>
<circle cx="457" cy="132.5" r="2.0" fill="url(#gLym)"/>
<circle cx="476.9" cy="133.9" r="2.0" fill="url(#gLym)"/>
<circle cx="411.3" cy="133" r="3.2" fill="url(#gGran)"/>
<circle cx="411.3" cy="133" r="1.6" fill="none" stroke="#d8609a" stroke-width="0.9" opacity="0.8"/>
<circle cx="433.9" cy="136.8" r="3.2" fill="url(#gGran)"/>
<circle cx="433.9" cy="136.8" r="1.6" fill="none" stroke="#d8609a" stroke-width="0.9" opacity="0.8"/>
<circle cx="492.3" cy="133.9" r="3.2" fill="url(#gGran)"/>
<circle cx="492.3" cy="133.9" r="1.6" fill="none" stroke="#d8609a" stroke-width="0.9" opacity="0.8"/>
<circle cx="301.6" cy="130.2" r="2.5" fill="url(#gHsc)"/>
<circle cx="307" cy="130.9" r="2.5" fill="url(#gHsc)"/>
<circle cx="315.4" cy="128.9" r="2.5" fill="url(#gHsc)"/>
<circle cx="321.2" cy="130.3" r="2.5" fill="url(#gHsc)"/>
<circle cx="329.2" cy="128" r="2.5" fill="url(#gHsc)"/>
<circle cx="341" cy="127.5" r="2.5" fill="url(#gHsc)"/>
<circle cx="352.5" cy="127.5" r="2.5" fill="url(#gHsc)"/>
<circle cx="360.5" cy="128" r="2.5" fill="url(#gHsc)"/>
<circle cx="371.2" cy="126.6" r="2.5" fill="url(#gHsc)"/>
<circle cx="381.5" cy="126.3" r="2.5" fill="url(#gHsc)"/>
<circle cx="391.6" cy="128.2" r="2.5" fill="url(#gHsc)"/>
<circle cx="399.8" cy="127.4" r="2.5" fill="url(#gHsc)"/>
<circle cx="408.5" cy="127.2" r="2.5" fill="url(#gHsc)"/>
<circle cx="423.3" cy="127.2" r="2.5" fill="url(#gHsc)"/>
<circle cx="429.5" cy="128.2" r="2.5" fill="url(#gHsc)"/>
<circle cx="444.4" cy="126.3" r="2.5" fill="url(#gHsc)"/>
<circle cx="448.8" cy="128.7" r="2.5" fill="url(#gHsc)"/>
<circle cx="456.5" cy="128.2" r="2.5" fill="url(#gHsc)"/>
<circle cx="466.5" cy="126.4" r="2.5" fill="url(#gHsc)"/>
<circle cx="475.4" cy="127.9" r="2.5" fill="url(#gHsc)"/>
<circle cx="482.8" cy="127.4" r="2.5" fill="url(#gHsc)"/>
<circle cx="495.3" cy="126.9" r="2.5" fill="url(#gHsc)"/>
<circle cx="501.7" cy="127.4" r="2.5" fill="url(#gHsc)"/>
<circle cx="385.4" cy="129.1" r="2.2" fill="url(#gLmp)"/>
<circle cx="367" cy="139.5" r="2.95" fill="url(#gEry)"/>
<circle cx="382" cy="140.7" r="2.95" fill="url(#gEry)"/>
<circle cx="390.7" cy="140.2" r="2.95" fill="url(#gEry)"/>
<ellipse cx="401.7" cy="139.2" rx="2.2" ry="1.3" transform="rotate(-35 401.7 139.2)" fill="#c4183a"/>
<ellipse cx="409.4" cy="137.8" rx="2.2" ry="1.3" transform="rotate(35 409.4 137.8)" fill="#c4183a"/>
<circle cx="417.1" cy="139.2" r="2.95" fill="url(#gEry)"/>
<circle cx="428.1" cy="137.8" r="2.95" fill="url(#gEry)"/>
<ellipse cx="439.6" cy="139.7" rx="2.2" ry="1.3" transform="rotate(-35 439.6 139.7)" fill="#c4183a"/>
<ellipse cx="453.1" cy="139.2" rx="2.2" ry="1.3" transform="rotate(35 453.1 139.2)" fill="#c4183a"/>
<circle cx="459.3" cy="138.8" r="2.95" fill="url(#gEry)"/>
<circle cx="465.6" cy="141.2" r="2.95" fill="url(#gEry)"/>
<ellipse cx="479.9" cy="137.3" rx="2.2" ry="1.3" transform="rotate(-35 479.9 137.3)" fill="#c4183a"/>
<circle cx="487.3" cy="139.8" r="2.95" fill="url(#gEry)"/>
<circle cx="505.7" cy="139.8" r="2.95" fill="url(#gEry)"/>
<path d="M27,88 C26,72 38,64 50,61 C56,56 64,51 74,51 C88,51 100,64 100,84 C100,108 85,126 63,126 C42,126 27,110 27,88 Z" fill="url(#gSac)"/>
<path d="M29,104 C33,118 46,126 63,126 C80,126 93,116 98,100" fill="none" stroke="#c9d4ef" stroke-width="3" filter="url(#fb1)"/>
<circle cx="38" cy="123" r="1.4" fill="#c8d3ee"/>
<circle cx="48" cy="127.5" r="1.4" fill="#c8d3ee"/>
<circle cx="60" cy="129" r="1.4" fill="#c8d3ee"/>
<circle cx="73" cy="128" r="1.4" fill="#c8d3ee"/>
<circle cx="85" cy="124" r="1.4" fill="#c8d3ee"/>
<circle cx="93" cy="117" r="1.4" fill="#c8d3ee"/>
<circle cx="98" cy="107" r="1.4" fill="#c8d3ee"/>
<circle cx="101" cy="95" r="1.4" fill="#c8d3ee"/>
<path d="M21.0,100.0L19.3,98.3M21.0,100.0L19.3,101.7M18.6,100.0L16.9,98.3M18.6,100.0L16.9,101.7M16.1,100.0L14.4,98.3M16.1,100.0L14.4,101.7M21.0,100.0L14.9,100.0M18.9,98.8L18.7,96.5M18.9,98.8L16.5,99.1M16.8,97.1L16.6,94.7M16.8,97.1L14.5,97.3M14.8,95.4L14.6,93.0M14.8,95.4L12.4,95.6M18.9,98.8L13.8,94.6M14.7,100.8L12.4,100.2M14.7,100.8L14.1,103.1M12.5,102.1L10.2,101.5M12.5,102.1L11.9,104.4M10.3,103.4L8.0,102.7M10.3,103.4L9.7,105.7M14.7,100.8L9.3,104.0M14.6,99.4L13.7,97.2M14.6,99.4L12.4,100.3M12.4,98.5L11.5,96.3M12.4,98.5L10.2,99.4M10.2,97.6L9.3,95.4M10.2,97.6L8.0,98.5M14.6,99.4L9.1,97.2" stroke="#9fb1e2" stroke-width="1.7" stroke-linecap="round" fill="none" filter="url(#fb0)"/>
<path d="M27.0,100.0L16.1,100.0M20.3,100.0L14.8,95.4M16.1,100.0L10.3,103.4M16.1,100.0L10.2,97.6" stroke="#2a479a" stroke-width="1.05" stroke-linecap="round" fill="none"/>
<path d="M21.0,86.6L19.4,84.8M21.0,86.6L19.2,88.2M18.6,86.5L17.0,84.7M18.6,86.5L16.8,88.0M16.1,86.3L14.5,84.5M16.1,86.3L14.3,87.9M21.0,86.6L14.9,86.2M19.0,85.3L18.9,83.0M19.0,85.3L16.6,85.4M17.0,83.5L17.0,81.1M17.0,83.5L14.6,83.5M15.1,81.6L15.0,79.2M15.1,81.6L12.7,81.7M19.0,85.3L14.2,80.8M14.6,87.1L12.4,86.3M14.6,87.1L13.9,89.3M12.4,88.2L10.1,87.4M12.4,88.2L11.6,90.4M10.1,89.3L7.8,88.6M10.1,89.3L9.3,91.6M14.6,87.1L9.0,89.9M14.7,85.6L13.9,83.4M14.7,85.6L12.4,86.4M12.5,84.6L11.7,82.3M12.5,84.6L10.3,85.4M10.3,83.6L9.5,81.3M10.3,83.6L8.1,84.3M14.7,85.6L9.3,83.0" stroke="#9fb1e2" stroke-width="1.7" stroke-linecap="round" fill="none" filter="url(#fb0)"/>
<path d="M27.0,87.0L16.1,86.3M20.3,86.6L15.1,81.6M16.1,86.3L10.1,89.3M16.1,86.3L10.3,83.6" stroke="#2a479a" stroke-width="1.05" stroke-linecap="round" fill="none"/>
<path d="M23.4,69.3L22.9,66.9M23.4,69.3L21.1,69.7M21.1,67.7L20.6,65.4M21.1,67.7L18.8,68.2M18.8,66.2L18.3,63.9M18.8,66.2L16.5,66.7M23.4,69.3L17.8,65.5M22.1,66.9L23.3,64.8M22.1,66.9L20.0,65.7M21.3,63.9L22.4,61.8M21.3,63.9L19.2,62.8M20.4,61.0L21.6,58.9M20.4,61.0L18.3,59.9M22.1,66.9L20.1,59.9M16.9,66.1L15.3,64.3M16.9,66.1L15.1,67.6M14.1,65.9L12.5,64.1M14.1,65.9L12.3,67.5M11.2,65.7L9.7,63.9M11.2,65.7L9.5,67.3M16.9,66.1L10.0,65.6M17.8,64.7L18.2,62.4M17.8,64.7L15.4,64.3M16.3,62.5L16.7,60.1M16.3,62.5L13.9,62.0M14.7,60.2L15.2,57.9M14.7,60.2L12.4,59.8M17.8,64.7L14.1,59.3" stroke="#9fb1e2" stroke-width="1.7" stroke-linecap="round" fill="none" filter="url(#fb0)"/>
<path d="M29.0,73.0L18.8,66.2M22.7,68.8L20.4,61.0M18.8,66.2L11.2,65.7M18.8,66.2L14.7,60.2" stroke="#2a479a" stroke-width="1.05" stroke-linecap="round" fill="none"/>
<path d="M36.8,58.4L37.7,56.2M36.8,58.4L34.6,57.5M35.8,56.1L36.8,53.9M35.8,56.1L33.7,55.2M34.9,53.8L35.9,51.6M34.9,53.8L32.7,52.9M36.8,58.4L34.5,52.7M37.0,56.0L39.2,54.9M37.0,56.0L36.0,53.9M37.9,53.4L40.0,52.3M37.9,53.4L36.8,51.3M38.8,50.8L40.9,49.7M38.8,50.8L37.7,48.7M37.0,56.0L39.1,49.7M33.6,52.8L33.3,50.4M33.6,52.8L31.2,53.0M31.6,51.2L31.3,48.8M31.6,51.2L29.2,51.5M29.6,49.6L29.3,47.2M29.6,49.6L27.2,49.9M33.6,52.8L28.6,48.9M34.9,52.2L36.6,50.5M34.9,52.2L33.3,50.5M34.9,49.8L36.6,48.1M34.9,49.8L33.3,48.1M34.9,47.3L36.6,45.7M34.9,47.3L33.3,45.7M34.9,52.2L34.9,46.1" stroke="#9fb1e2" stroke-width="1.7" stroke-linecap="round" fill="none" filter="url(#fb0)"/>
<path d="M39.0,64.0L34.9,53.8M36.5,57.7L38.8,50.8M34.9,53.8L29.6,49.6M34.9,53.8L34.9,47.3" stroke="#2a479a" stroke-width="1.05" stroke-linecap="round" fill="none"/>
<path d="M52.5,51.0L53.7,49.0M52.5,51.0L50.5,49.8M51.9,48.6L53.1,46.5M51.9,48.6L49.9,47.3M51.3,46.1L52.5,44.1M51.3,46.1L49.2,44.9M52.5,51.0L51.0,45.0M53.1,48.6L55.4,47.8M53.1,48.6L52.4,46.4M54.4,46.1L56.6,45.3M54.4,46.1L53.6,43.9M55.6,43.6L57.8,42.8M55.6,43.6L54.8,41.4M53.1,48.6L56.1,42.5M50.1,44.9L50.1,42.5M50.1,44.9L47.7,44.8M48.3,43.0L48.3,40.6M48.3,43.0L45.9,43.0M46.5,41.1L46.5,38.8M46.5,41.1L44.1,41.1M50.1,44.9L45.6,40.3M51.5,44.5L53.4,43.1M51.5,44.5L50.1,42.6M51.9,42.0L53.7,40.6M51.9,42.0L50.4,40.1M52.2,39.6L54.1,38.2M52.2,39.6L50.8,37.7M51.5,44.5L52.4,38.4" stroke="#9fb1e2" stroke-width="1.7" stroke-linecap="round" fill="none" filter="url(#fb0)"/>
<path d="M54.0,57.0L51.3,46.1M52.3,50.3L55.6,43.6M51.3,46.1L46.5,41.1M51.3,46.1L52.2,39.6" stroke="#2a479a" stroke-width="1.05" stroke-linecap="round" fill="none"/>
<path d="M66.0,46.4L67.7,44.7M66.0,46.4L64.3,44.7M66.0,44.1L67.7,42.4M66.0,44.1L64.3,42.4M66.0,41.8L67.7,40.1M66.0,41.8L64.3,40.1M66.0,46.4L66.0,40.6M67.1,44.4L69.5,44.2M67.1,44.4L66.9,42.0M68.7,42.5L71.1,42.3M68.7,42.5L68.5,40.1M70.3,40.5L72.7,40.3M70.3,40.5L70.1,38.2M67.1,44.4L71.1,39.6M65.2,40.4L65.8,38.1M65.2,40.4L62.9,39.8M64.0,38.4L64.6,36.1M64.0,38.4L61.7,37.8M62.9,36.3L63.5,34.0M62.9,36.3L60.6,35.7M65.2,40.4L62.2,35.3M66.6,40.4L68.7,39.5M66.6,40.4L65.6,38.2M67.4,38.3L69.6,37.4M67.4,38.3L66.5,36.1M68.2,36.2L70.4,35.3M68.2,36.2L67.3,34.0M66.6,40.4L68.7,35.1" stroke="#9fb1e2" stroke-width="1.7" stroke-linecap="round" fill="none" filter="url(#fb0)"/>
<path d="M66.0,52.0L66.0,41.8M66.0,45.7L70.3,40.5M66.0,41.8L62.9,36.3M66.0,41.8L68.2,36.2" stroke="#2a479a" stroke-width="1.05" stroke-linecap="round" fill="none"/>
<path d="M82.5,47.1L84.6,46.0M82.5,47.1L81.4,45.0M83.1,45.1L85.2,44.0M83.1,45.1L82.0,43.0M83.7,43.2L85.8,42.0M83.7,43.2L82.6,41.1M82.5,47.1L84.1,42.0M84.0,45.7L86.3,46.2M84.0,45.7L84.5,43.4M85.9,44.5L88.2,45.0M85.9,44.5L86.4,42.1M87.8,43.2L90.1,43.7M87.8,43.2L88.3,40.9M84.0,45.7L88.8,42.6M83.4,41.8L84.7,39.8M83.4,41.8L81.4,40.5M82.9,39.7L84.2,37.7M82.9,39.7L80.9,38.4M82.4,37.6L83.7,35.6M82.4,37.6L80.4,36.3M83.4,41.8L82.2,36.4M84.6,42.1L86.9,41.9M84.6,42.1L84.3,39.7M85.9,40.5L88.2,40.3M85.9,40.5L85.6,38.2M87.2,38.9L89.5,38.7M87.2,38.9L86.9,36.6M84.6,42.1L87.9,38.0" stroke="#9fb1e2" stroke-width="1.7" stroke-linecap="round" fill="none" filter="url(#fb0)"/>
<path d="M81.0,52.0L83.7,43.2M82.7,46.5L87.8,43.2M83.7,43.2L82.4,37.6M83.7,43.2L87.2,38.9" stroke="#2a479a" stroke-width="1.05" stroke-linecap="round" fill="none"/>
<path d="M94.2,54.9L96.5,54.2M94.2,54.9L93.6,52.6M95.2,53.2L97.4,52.5M95.2,53.2L94.5,50.9M96.1,51.5L98.4,50.8M96.1,51.5L95.4,49.2M94.2,54.9L96.7,50.5M95.8,53.9L98.0,54.8M95.8,53.9L96.8,51.7M97.8,53.1L100.0,54.0M97.8,53.1L98.8,50.9M99.8,52.3L101.9,53.3M99.8,52.3L100.7,50.1M95.8,53.9L100.9,51.9M96.0,50.2L97.7,48.5M96.0,50.2L94.3,48.6M96.0,48.2L97.6,46.5M96.0,48.2L94.3,46.6M96.0,46.3L97.6,44.5M96.0,46.3L94.2,44.6M96.0,50.2L95.9,45.1M97.0,50.7L99.4,51.0M97.0,50.7L97.3,48.4M98.5,49.5L100.9,49.8M98.5,49.5L98.7,47.2M100.0,48.3L102.3,48.6M100.0,48.3L100.2,46.0M97.0,50.7L100.9,47.6" stroke="#9fb1e2" stroke-width="1.7" stroke-linecap="round" fill="none" filter="url(#fb0)"/>
<path d="M92.0,59.0L96.1,51.5M94.5,54.4L99.8,52.3M96.1,51.5L96.0,46.3M96.1,51.5L100.0,48.3" stroke="#2a479a" stroke-width="1.05" stroke-linecap="round" fill="none"/>
<path d="M101.4,66.0L103.7,66.1M101.4,66.0L101.5,63.6M102.7,64.8L105.1,64.9M102.7,64.8L102.9,62.4M104.1,63.6L106.5,63.7M104.1,63.6L104.3,61.2M101.4,66.0L105.0,62.8M103.1,65.6L104.9,67.2M103.1,65.6L104.8,63.9M105.2,65.5L106.9,67.2M105.2,65.5L106.8,63.8M107.2,65.5L108.9,67.1M107.2,65.5L108.8,63.8M103.1,65.6L108.4,65.5M104.5,62.4L106.6,61.3M104.5,62.4L103.5,60.2M105.1,60.6L107.2,59.5M105.1,60.6L104.1,58.4M105.7,58.8L107.8,57.7M105.7,58.8L104.6,56.6M104.5,62.4L106.1,57.6M105.3,63.2L107.4,64.2M105.3,63.2L106.3,61.0M107.0,62.5L109.1,63.6M107.0,62.5L108.0,60.4M108.7,61.9L110.8,63.0M108.7,61.9L109.7,59.8M105.3,63.2L109.8,61.5" stroke="#9fb1e2" stroke-width="1.7" stroke-linecap="round" fill="none" filter="url(#fb0)"/>
<path d="M98.0,69.0L104.1,63.6M101.8,65.6L107.2,65.5M104.1,63.6L105.7,58.8M104.1,63.6L108.7,61.9" stroke="#2a479a" stroke-width="1.05" stroke-linecap="round" fill="none"/>
<path d="M24.8,113.5L22.9,112.5M24.8,113.5L23.7,115.4M22.6,114.1L20.8,113.1M22.6,114.1L21.6,116.0M20.5,114.7L18.6,113.7M20.5,114.7L19.4,116.6M24.8,113.5L19.3,115.0M22.8,113.1L22.0,111.1M22.8,113.1L20.8,113.8M20.8,112.2L20.0,110.2M20.8,112.2L18.8,112.9M18.7,111.3L18.0,109.3M18.7,111.3L16.7,112.0M22.8,113.1L17.6,110.8M19.5,115.7L17.4,115.7M19.5,115.7L19.6,117.8M18.1,117.2L16.0,117.2M18.1,117.2L18.1,119.3M16.7,118.7L14.5,118.7M16.7,118.7L16.7,120.8M19.5,115.7L15.8,119.5M19.2,114.6L17.8,112.9M19.2,114.6L17.5,115.9M17.2,114.4L15.9,112.7M17.2,114.4L15.6,115.7M15.3,114.2L13.9,112.5M15.3,114.2L13.6,115.5M19.2,114.6L14.1,114.0" stroke="#9fb1e2" stroke-width="1.7" stroke-linecap="round" fill="none" filter="url(#fb0)"/>
<path d="M103.0,79.9L104.7,80.7M103.0,79.9L103.8,78.1M104.2,79.4L105.9,80.2M104.2,79.4L105.0,77.7M105.4,79.0L107.2,79.7M105.4,79.0L106.2,77.2M103.0,79.9L106.6,78.5M104.1,80.0L104.9,81.7M104.1,80.0L105.8,79.2M105.2,80.4L106.0,82.1M105.2,80.4L106.9,79.6M106.3,80.8L107.1,82.5M106.3,80.8L108.0,79.9M104.1,80.0L107.4,81.2M105.9,78.4L107.8,78.2M105.9,78.4L105.7,76.5M106.6,77.6L108.5,77.4M106.6,77.6L106.4,75.7M107.3,76.7L109.2,76.6M107.3,76.7L107.1,74.9M105.9,78.4L108.0,75.8M106.1,79.0L107.4,80.4M106.1,79.0L107.5,77.7M107.1,79.0L108.5,80.4M107.1,79.0L108.5,77.7M108.2,79.0L109.5,80.4M108.2,79.0L109.6,77.7M106.1,79.0L109.4,79.1" stroke="#9fb1e2" stroke-width="1.7" stroke-linecap="round" fill="none" filter="url(#fb0)"/>
<path d="M27.5,104 C26,98 25.5,91 27,85 C29,74 36,66 48,62.5 C52,61 54,58 57,56 C62,52.5 68,51 74,51 C86,51 96,59 99,70 C101,78 100,88 97,98" fill="none" stroke="#1f3c8e" stroke-width="1.5"/>
<path d="M37.5,72.5 C43,71.5 46.5,77 46.5,83 C47,88 50,94 54,98 C57,101 59,103 60.5,104.5 C58,107 54,106 50,103 C45,100 40,98 36,97 C32,95 30,90 30.5,84 C31,78 33,73 37.5,72.5 Z" fill="url(#gYolk)"/>
<ellipse cx="65.5" cy="106" rx="6" ry="4.2" fill="#fbe6a4" opacity="0.85"/>
<path d="M70,72.7 C79,72.5 86,80 87.5,92 C88.5,106 83,118 70,120.5 C60,121.5 51,116 50,109 C49.5,105 51.5,102.5 54.5,103 C56,108.5 61,112.5 67,112.5 C72,112.5 74.5,108.5 73,104.5 C71.5,101 66,99 63,95 C61.2,92 61,89 61,86 C61,78 64,72.8 70,72.7 Z" fill="url(#gEmb)"/>
<path d="M60,104 C63,107 67,108 70,109" fill="none" stroke="#f6d67a" stroke-width="2.2"/>
<circle cx="72.5" cy="105.5" r="3.2" fill="#ea6478" opacity="0.75"/>
<path d="M50.3,61.5 C50.3,72 51.2,82 52.7,88 C54.4,95 57.5,99 59.5,103 C59,106 57,109 55,111 C54,112 53,112.5 52,113" fill="none" stroke="#1f3c8e" stroke-width="1.4"/>
<path d="M52,60.5 C52.2,72 53,82 54.5,89 C56.5,96 60.5,100 63.5,103 C66,105 69,106 72.5,105.5" fill="none" stroke="#1f3c8e" stroke-width="1.4"/>
<circle cx="33.7" cy="91.5" r="0.9" fill="#111"/>
<line x1="33.7" y1="91.5" x2="33.7" y2="99" stroke="#333" stroke-width="0.6"/>
<circle cx="60.6" cy="115.3" r="0.9" fill="#111"/>
<line x1="60.6" y1="115.3" x2="60.6" y2="131.2" stroke="#333" stroke-width="0.6"/>
<circle cx="72.2" cy="106.4" r="0.9" fill="#111"/>
<line x1="72.2" y1="106.4" x2="84" y2="121.3" stroke="#333" stroke-width="0.6"/>
<text x="59" y="62.4" font-size="6.2" font-weight="bold" font-style="normal" fill="#1a1a1a" text-anchor="start" textLength="25.6" lengthAdjust="spacingAndGlyphs" stroke="#1a1a1a" stroke-width="0.22">Placenta</text>
<text x="28.9" y="106.1" font-size="6.2" font-weight="bold" font-style="normal" fill="#1a1a1a" text-anchor="start" textLength="12" lengthAdjust="spacingAndGlyphs" stroke="#1a1a1a" stroke-width="0.22">Yolk</text>
<text x="32.4" y="113.8" font-size="6.2" font-weight="bold" font-style="normal" fill="#1a1a1a" text-anchor="start" textLength="8.5" lengthAdjust="spacingAndGlyphs" stroke="#1a1a1a" stroke-width="0.22">sac</text>
<text x="83.3" y="127.7" font-size="6.2" font-weight="bold" font-style="normal" fill="#1a1a1a" text-anchor="start" textLength="14.2" lengthAdjust="spacingAndGlyphs" stroke="#1a1a1a" stroke-width="0.22">Liver</text>
<text x="57.8" y="138.9" font-size="6.2" font-weight="bold" font-style="normal" fill="#1a1a1a" text-anchor="start" textLength="15.6" lengthAdjust="spacingAndGlyphs" stroke="#1a1a1a" stroke-width="0.22">AGM</text>
<text x="20.3" y="169.2" font-size="9.4" font-weight="bold" font-style="normal" fill="#111" text-anchor="start" textLength="79" lengthAdjust="spacingAndGlyphs" stroke="#111" stroke-width="0.22">E11 mouse embryo</text>
<rect x="155" y="186" width="78" height="26" fill="url(#gRedM)" mask="url(#mV)"/>
<rect x="176" y="212.5" width="108" height="27.5" fill="url(#gBlueM)" mask="url(#mV)"/>
<rect x="288" y="240.7" width="60" height="27.6" fill="url(#gGreenM)" mask="url(#mV)"/>
<line x1="391.6" y1="177" x2="391.6" y2="273" stroke="#b0bcd4" stroke-width="0.8"/>
<line x1="151" y1="176.5" x2="405" y2="176.5" stroke="#111" stroke-width="1.5"/>
<path d="M402,173.8 L411.6,176.5 L402,179.2 Z" fill="#111"/>
<line x1="190.6" y1="176.5" x2="190.6" y2="181" stroke="#111" stroke-width="1.4"/>
<line x1="225" y1="176.5" x2="225" y2="181" stroke="#111" stroke-width="1.4"/>
<line x1="261.2" y1="176.5" x2="261.2" y2="181" stroke="#111" stroke-width="1.4"/>
<line x1="296.7" y1="176.5" x2="296.7" y2="181" stroke="#111" stroke-width="1.4"/>
<line x1="333" y1="176.5" x2="333" y2="181" stroke="#111" stroke-width="1.4"/>
<line x1="377.3" y1="176.5" x2="377.3" y2="181" stroke="#111" stroke-width="1.4"/>
<line x1="391.7" y1="176.5" x2="391.7" y2="181" stroke="#111" stroke-width="1.4"/>
<text transform="translate(192.1,172.4) rotate(-90)" font-size="5.6" font-weight="normal" fill="#555" stroke="#555" stroke-width="0.12" textLength="6.9" lengthAdjust="spacingAndGlyphs">E7</text>
<text transform="translate(227.3,172.4) rotate(-90)" font-size="5.6" font-weight="normal" fill="#555" stroke="#555" stroke-width="0.12" textLength="6.9" lengthAdjust="spacingAndGlyphs">E8</text>
<text transform="translate(263.8,172.4) rotate(-90)" font-size="5.6" font-weight="normal" fill="#555" stroke="#555" stroke-width="0.12" textLength="6.9" lengthAdjust="spacingAndGlyphs">E9</text>
<text transform="translate(300.2,172.4) rotate(-90)" font-size="5.6" font-weight="normal" fill="#555" stroke="#555" stroke-width="0.12" textLength="9.8" lengthAdjust="spacingAndGlyphs">E10</text>
<text transform="translate(333.5,172.4) rotate(-90)" font-size="5.6" font-weight="normal" fill="#555" stroke="#555" stroke-width="0.12" textLength="9.6" lengthAdjust="spacingAndGlyphs">E11</text>
<text transform="translate(378.7,172.4) rotate(-90)" font-size="5.6" font-weight="normal" fill="#555" stroke="#555" stroke-width="0.12" textLength="9.6" lengthAdjust="spacingAndGlyphs">E15</text>
<text transform="translate(394.1,171.9) rotate(-90)" font-size="6.0" font-weight="bold" fill="#666" stroke="#666" stroke-width="0.12" textLength="13.9" lengthAdjust="spacingAndGlyphs">Birth</text>
<text x="197.3" y="173.2" font-size="5.8" font-weight="bold" font-style="normal" fill="#111" text-anchor="start" stroke="#111" stroke-width="0.22">1</text>
<text x="368" y="173.4" font-size="5.8" font-weight="bold" font-style="normal" fill="#111" text-anchor="start" stroke="#111" stroke-width="0.22">2</text>
<text x="400.2" y="173.5" font-size="6.3" font-weight="bold" font-style="normal" fill="#111" text-anchor="start" textLength="24.9" lengthAdjust="spacingAndGlyphs" stroke="#111" stroke-width="0.22">3 weeks</text>
<text x="117.5" y="184.2" font-size="6.3" font-weight="bold" font-style="normal" fill="#111" text-anchor="start" textLength="47" lengthAdjust="spacingAndGlyphs" stroke="#111" stroke-width="0.22">Mouse timeline</text>
<text x="157.5" y="194.2" font-size="7.3" font-weight="bold" font-style="normal" fill="#e05862" text-anchor="start" textLength="31.2" lengthAdjust="spacingAndGlyphs" stroke="#e05862" stroke-width="0.22">Primitive</text>
<text x="172.5" y="206.3" font-size="6.5" font-weight="bold" font-style="normal" fill="#111" text-anchor="start" textLength="24" lengthAdjust="spacingAndGlyphs" stroke="#111" stroke-width="0.22">Yolk Sac</text>
<text x="238.7" y="186.6" font-size="6.6" font-weight="bold" font-style="normal" fill="#111" text-anchor="start" textLength="32.5" lengthAdjust="spacingAndGlyphs" stroke="#111" stroke-width="0.22">Circulation</text>
<text x="343.6" y="189.2" font-size="6.3" font-weight="normal" font-style="normal" fill="#444" text-anchor="start" textLength="13" lengthAdjust="spacingAndGlyphs">Liver</text>
<line x1="135" y1="215" x2="155" y2="203" stroke="#111" stroke-width="0.9"/>
<path d="M158,201.2 L153.1,202.2 L155.2,205.5 Z" fill="#111"/>
<text x="111.8" y="219.9" font-size="6.7" font-weight="bold" font-style="normal" fill="#111" text-anchor="start" textLength="14.4" lengthAdjust="spacingAndGlyphs" stroke="#111" stroke-width="0.22">HSC-</text>
<text x="111.8" y="227.4" font-size="6.4" font-weight="bold" font-style="normal" fill="#111" text-anchor="start" textLength="38.5" lengthAdjust="spacingAndGlyphs" stroke="#111" stroke-width="0.22">independent</text>
<line x1="161.5" y1="224.8" x2="178" y2="224.8" stroke="#111" stroke-width="1"/>
<path d="M177,223 L181.7,224.8 L177,226.6 Z" fill="#111"/>
<text x="160" y="220.4" font-size="7.3" font-weight="bold" font-style="normal" fill="#1f5d96" text-anchor="start" textLength="69" lengthAdjust="spacingAndGlyphs" stroke="#1f5d96" stroke-width="0.22">Transient-Definitive</text>
<text x="232.7" y="222.6" font-size="6.3" font-weight="bold" font-style="normal" fill="#1c2433" text-anchor="start" textLength="25.3" lengthAdjust="spacingAndGlyphs" stroke="#1c2433" stroke-width="0.22">Yolk Sac</text>
<text x="286" y="219.8" font-size="6.6" font-weight="bold" font-style="normal" fill="#111" text-anchor="start" textLength="14.6" lengthAdjust="spacingAndGlyphs" stroke="#111" stroke-width="0.22">Liver</text>
<text x="264.6" y="238" font-size="6.3" font-weight="normal" font-style="normal" fill="#666" text-anchor="start" textLength="22.4" lengthAdjust="spacingAndGlyphs">Embryo</text>
<text x="113.5" y="259.2" font-size="6.1" font-weight="bold" font-style="italic" fill="#111" text-anchor="start" textLength="38.8" lengthAdjust="spacingAndGlyphs" stroke="#111" stroke-width="0.22">HSC-forming</text>
<rect x="158" y="257.3" width="89" height="1" fill="url(#gArr)"/>
<path d="M246,256 L251,257.8 L246,259.6 Z" fill="#111"/>
<text x="267.3" y="250.6" font-size="7.3" font-weight="bold" font-style="normal" fill="#1f7d40" text-anchor="start" textLength="34" lengthAdjust="spacingAndGlyphs" stroke="#1f7d40" stroke-width="0.22">Definitive</text>
<text x="291.6" y="264.6" font-size="6.6" font-weight="bold" font-style="normal" fill="#111" text-anchor="start" textLength="15.7" lengthAdjust="spacingAndGlyphs" stroke="#111" stroke-width="0.22">AGM</text>
<text x="320.8" y="246.8" font-size="6.3" font-weight="normal" font-style="normal" fill="#3c4a3c" text-anchor="start" textLength="23.9" lengthAdjust="spacingAndGlyphs">Yolk Sac</text>
<text x="357.7" y="248" font-size="6.6" font-weight="bold" font-style="normal" fill="#111" text-anchor="start" textLength="14.3" lengthAdjust="spacingAndGlyphs" stroke="#111" stroke-width="0.22">Liver</text>
<text x="336" y="266.2" font-size="6.6" font-weight="bold" font-style="normal" fill="#111" text-anchor="start" textLength="25.4" lengthAdjust="spacingAndGlyphs" stroke="#111" stroke-width="0.22">Placenta</text>
<text x="399" y="243.8" font-size="6.6" font-weight="bold" font-style="normal" fill="#111" text-anchor="start" textLength="41.4" lengthAdjust="spacingAndGlyphs" stroke="#111" stroke-width="0.22">Bone marrow</text>
<circle cx="207" cy="199" r="2.95" fill="url(#gEry)"/>
<circle cx="211" cy="204" r="2.95" fill="url(#gEry)"/>
<circle cx="218" cy="201" r="3.9" fill="url(#gMono)"/>
<circle cx="225" cy="197" r="3.9" fill="url(#gMk)"/>
<circle cx="244" cy="196" r="2.95" fill="url(#gEry)"/>
<circle cx="256" cy="195" r="3.9" fill="url(#gMk)"/>
<circle cx="263" cy="195" r="2.95" fill="url(#gEry)"/>
<circle cx="276" cy="193" r="4" fill="url(#gStarG)"/>
<line x1="273.06" y1="191.30" x2="278.94" y2="194.70" stroke="#d99a52" stroke-width="0.8" stroke-linecap="round" opacity="0.5"/>
<line x1="275.41" y1="189.65" x2="276.59" y2="196.35" stroke="#d99a52" stroke-width="0.8" stroke-linecap="round" opacity="0.5"/>
<line x1="278.40" y1="190.60" x2="273.60" y2="195.40" stroke="#d99a52" stroke-width="0.8" stroke-linecap="round" opacity="0.5"/>
<line x1="279.28" y1="192.12" x2="272.72" y2="193.88" stroke="#d99a52" stroke-width="0.8" stroke-linecap="round" opacity="0.5"/>
<circle cx="276" cy="193" r="1.8" fill="url(#gStarC)"/>
<circle cx="287" cy="199" r="2.95" fill="url(#gEry)"/>
<circle cx="238" cy="205" r="3.9" fill="url(#gMk)"/>
<circle cx="253" cy="202" r="3.9" fill="url(#gMono)"/>
<circle cx="274" cy="203" r="3.9" fill="url(#gMono)"/>
<circle cx="298.4" cy="199" r="2.95" fill="url(#gEry)"/>
<circle cx="303" cy="193" r="3.9" fill="url(#gMono)"/>
<circle cx="311.5" cy="196" r="2.95" fill="url(#gEry)"/>
<circle cx="317.6" cy="200" r="4.4" fill="url(#gPeach)"/>
<line x1="314.66" y1="198.30" x2="320.54" y2="201.70" stroke="#ebc080" stroke-width="0.8" stroke-linecap="round" opacity="0.4"/>
<line x1="317.01" y1="196.65" x2="318.19" y2="203.35" stroke="#ebc080" stroke-width="0.8" stroke-linecap="round" opacity="0.4"/>
<line x1="320.00" y1="197.60" x2="315.20" y2="202.40" stroke="#ebc080" stroke-width="0.8" stroke-linecap="round" opacity="0.4"/>
<line x1="320.88" y1="199.12" x2="314.32" y2="200.88" stroke="#ebc080" stroke-width="0.8" stroke-linecap="round" opacity="0.4"/>
<circle cx="317.6" cy="200" r="1.8" fill="url(#gPeachC)"/>
<circle cx="327.8" cy="199" r="2.95" fill="url(#gEry)"/>
<circle cx="331" cy="194" r="2.95" fill="url(#gEry)"/>
<circle cx="345" cy="194.6" r="2.95" fill="url(#gEry)"/>
<circle cx="360" cy="193.7" r="2.95" fill="url(#gEry)"/>
<circle cx="376.8" cy="192" r="4" fill="url(#gStarG)"/>
<line x1="373.86" y1="190.30" x2="379.74" y2="193.70" stroke="#d99a52" stroke-width="0.8" stroke-linecap="round" opacity="0.5"/>
<line x1="376.21" y1="188.65" x2="377.39" y2="195.35" stroke="#d99a52" stroke-width="0.8" stroke-linecap="round" opacity="0.5"/>
<line x1="379.20" y1="189.60" x2="374.40" y2="194.40" stroke="#d99a52" stroke-width="0.8" stroke-linecap="round" opacity="0.5"/>
<line x1="380.08" y1="191.12" x2="373.52" y2="192.88" stroke="#d99a52" stroke-width="0.8" stroke-linecap="round" opacity="0.5"/>
<circle cx="376.8" cy="192" r="1.8" fill="url(#gStarC)"/>
<circle cx="383.7" cy="199" r="2.95" fill="url(#gEry)"/>
<circle cx="408" cy="196.3" r="4.4" fill="url(#gPeach)"/>
<line x1="405.06" y1="194.60" x2="410.94" y2="198.00" stroke="#ebc080" stroke-width="0.8" stroke-linecap="round" opacity="0.4"/>
<line x1="407.41" y1="192.95" x2="408.59" y2="199.65" stroke="#ebc080" stroke-width="0.8" stroke-linecap="round" opacity="0.4"/>
<line x1="410.40" y1="193.90" x2="405.60" y2="198.70" stroke="#ebc080" stroke-width="0.8" stroke-linecap="round" opacity="0.4"/>
<line x1="411.28" y1="195.42" x2="404.72" y2="197.18" stroke="#ebc080" stroke-width="0.8" stroke-linecap="round" opacity="0.4"/>
<circle cx="408" cy="196.3" r="1.8" fill="url(#gPeachC)"/>
<circle cx="244" cy="228.6" r="2.5" fill="url(#gEmp)"/>
<circle cx="251" cy="230" r="2.5" fill="url(#gEmp)"/>
<circle cx="255" cy="226" r="2.2" fill="url(#gLmp)"/>
<circle cx="268" cy="225" r="2.5" fill="url(#gEmp)"/>
<circle cx="266" cy="230" r="2.2" fill="url(#gLmp)"/>
<circle cx="275" cy="230" r="2.2" fill="url(#gLmp)"/>
<circle cx="286" cy="224" r="2.2" fill="url(#gLmp)"/>
<circle cx="283" cy="230" r="2.5" fill="url(#gEmp)"/>
<circle cx="295" cy="226" r="2.5" fill="url(#gEmp)"/>
<circle cx="302" cy="229" r="3.9" fill="url(#gMono)"/>
<circle cx="305" cy="220" r="3.9" fill="url(#gMk)"/>
<circle cx="318" cy="228" r="3.9" fill="url(#gMono)"/>
<circle cx="322" cy="218" r="3.9" fill="url(#gMk)"/>
<circle cx="327" cy="224" r="2.95" fill="url(#gEry)"/>
<circle cx="333" cy="222" r="2.95" fill="url(#gEry)"/>
<circle cx="336" cy="228" r="2.0" fill="url(#gLym)"/>
<circle cx="347" cy="223" r="2.95" fill="url(#gEry)"/>
<circle cx="346" cy="228" r="2.95" fill="url(#gEry)"/>
<ellipse cx="352" cy="228" rx="2.2" ry="1.3" transform="rotate(35 352 228)" fill="#c4183a"/>
<circle cx="355" cy="221" r="4" fill="url(#gStarG)"/>
<line x1="352.06" y1="219.30" x2="357.94" y2="222.70" stroke="#d99a52" stroke-width="0.8" stroke-linecap="round" opacity="0.5"/>
<line x1="354.41" y1="217.65" x2="355.59" y2="224.35" stroke="#d99a52" stroke-width="0.8" stroke-linecap="round" opacity="0.5"/>
<line x1="357.40" y1="218.60" x2="352.60" y2="223.40" stroke="#d99a52" stroke-width="0.8" stroke-linecap="round" opacity="0.5"/>
<line x1="358.28" y1="220.12" x2="351.72" y2="221.88" stroke="#d99a52" stroke-width="0.8" stroke-linecap="round" opacity="0.5"/>
<circle cx="355" cy="221" r="1.8" fill="url(#gStarC)"/>
<circle cx="359" cy="226" r="2.95" fill="url(#gEry)"/>
<circle cx="363" cy="224" r="2.0" fill="url(#gLym)"/>
<circle cx="365" cy="229" r="3.9" fill="url(#gMono)"/>
<circle cx="368" cy="224" r="2.0" fill="url(#gLym)"/>
<circle cx="373" cy="230" r="2.0" fill="url(#gLym)"/>
<circle cx="378" cy="225" r="2.0" fill="url(#gLym)"/>
<circle cx="385" cy="222" r="4.4" fill="url(#gPeach)"/>
<line x1="382.06" y1="220.30" x2="387.94" y2="223.70" stroke="#ebc080" stroke-width="0.8" stroke-linecap="round" opacity="0.4"/>
<line x1="384.41" y1="218.65" x2="385.59" y2="225.35" stroke="#ebc080" stroke-width="0.8" stroke-linecap="round" opacity="0.4"/>
<line x1="387.40" y1="219.60" x2="382.60" y2="224.40" stroke="#ebc080" stroke-width="0.8" stroke-linecap="round" opacity="0.4"/>
<line x1="388.28" y1="221.12" x2="381.72" y2="222.88" stroke="#ebc080" stroke-width="0.8" stroke-linecap="round" opacity="0.4"/>
<circle cx="385" cy="222" r="1.8" fill="url(#gPeachC)"/>
<circle cx="384" cy="228" r="2.95" fill="url(#gEry)"/>
<circle cx="389" cy="229" r="2.95" fill="url(#gEry)"/>
<ellipse cx="394" cy="224" rx="2.2" ry="1.3" transform="rotate(35 394 224)" fill="#c4183a"/>
<circle cx="399" cy="222" r="2.0" fill="url(#gLym)"/>
<circle cx="405" cy="218" r="4.4" fill="url(#gPeach)"/>
<line x1="402.06" y1="216.30" x2="407.94" y2="219.70" stroke="#ebc080" stroke-width="0.8" stroke-linecap="round" opacity="0.4"/>
<line x1="404.41" y1="214.65" x2="405.59" y2="221.35" stroke="#ebc080" stroke-width="0.8" stroke-linecap="round" opacity="0.4"/>
<line x1="407.40" y1="215.60" x2="402.60" y2="220.40" stroke="#ebc080" stroke-width="0.8" stroke-linecap="round" opacity="0.4"/>
<line x1="408.28" y1="217.12" x2="401.72" y2="218.88" stroke="#ebc080" stroke-width="0.8" stroke-linecap="round" opacity="0.4"/>
<circle cx="405" cy="218" r="1.8" fill="url(#gPeachC)"/>
<circle cx="404" cy="227" r="2.95" fill="url(#gEry)"/>
<circle cx="411" cy="223" r="2.0" fill="url(#gLym)"/>
<circle cx="411" cy="231" r="3.9" fill="url(#gMono)"/>
<circle cx="416" cy="226" r="2.0" fill="url(#gLym)"/>
<circle cx="423" cy="222" r="4" fill="url(#gStarG)"/>
<line x1="420.06" y1="220.30" x2="425.94" y2="223.70" stroke="#d99a52" stroke-width="0.8" stroke-linecap="round" opacity="0.5"/>
<line x1="422.41" y1="218.65" x2="423.59" y2="225.35" stroke="#d99a52" stroke-width="0.8" stroke-linecap="round" opacity="0.5"/>
<line x1="425.40" y1="219.60" x2="420.60" y2="224.40" stroke="#d99a52" stroke-width="0.8" stroke-linecap="round" opacity="0.5"/>
<line x1="426.28" y1="221.12" x2="419.72" y2="222.88" stroke="#d99a52" stroke-width="0.8" stroke-linecap="round" opacity="0.5"/>
<circle cx="423" cy="222" r="1.8" fill="url(#gStarC)"/>
<circle cx="424" cy="230" r="2.0" fill="url(#gLym)"/>
<circle cx="434" cy="224" r="4.4" fill="url(#gPeach)"/>
<line x1="431.06" y1="222.30" x2="436.94" y2="225.70" stroke="#ebc080" stroke-width="0.8" stroke-linecap="round" opacity="0.4"/>
<line x1="433.41" y1="220.65" x2="434.59" y2="227.35" stroke="#ebc080" stroke-width="0.8" stroke-linecap="round" opacity="0.4"/>
<line x1="436.40" y1="221.60" x2="431.60" y2="226.40" stroke="#ebc080" stroke-width="0.8" stroke-linecap="round" opacity="0.4"/>
<line x1="437.28" y1="223.12" x2="430.72" y2="224.88" stroke="#ebc080" stroke-width="0.8" stroke-linecap="round" opacity="0.4"/>
<circle cx="434" cy="224" r="1.8" fill="url(#gPeachC)"/>
<circle cx="359" cy="256.9" r="3.9" fill="url(#gMk)"/>
<circle cx="398" cy="255.2" r="3.9" fill="url(#gMk)"/>
<circle cx="424.2" cy="253.7" r="3.9" fill="url(#gMk)"/>
<circle cx="376.5" cy="254.9" r="3.9" fill="url(#gMono)"/>
<circle cx="415.9" cy="253.1" r="3.9" fill="url(#gMono)"/>
<circle cx="384.8" cy="254.5" r="3.2" fill="url(#gGran)"/>
<circle cx="384.8" cy="254.5" r="1.6" fill="none" stroke="#d8609a" stroke-width="0.9" opacity="0.8"/>
<circle cx="434.3" cy="255.9" r="3.2" fill="url(#gGran)"/>
<circle cx="434.3" cy="255.9" r="1.6" fill="none" stroke="#d8609a" stroke-width="0.9" opacity="0.8"/>
<circle cx="389" cy="259.6" r="2.0" fill="url(#gLym)"/>
<circle cx="405.8" cy="253.7" r="2.0" fill="url(#gLym)"/>
<circle cx="429.8" cy="252.6" r="2.0" fill="url(#gLym)"/>
<circle cx="308" cy="253.4" r="2.5" fill="url(#gHsc)"/>
<circle cx="314.9" cy="253.4" r="2.5" fill="url(#gHsc)"/>
<circle cx="325.1" cy="250.8" r="2.5" fill="url(#gHsc)"/>
<circle cx="333.8" cy="251.3" r="2.5" fill="url(#gHsc)"/>
<circle cx="340.7" cy="250.5" r="2.5" fill="url(#gHsc)"/>
<circle cx="351.2" cy="250.9" r="2.5" fill="url(#gHsc)"/>
<circle cx="359.6" cy="250.3" r="2.5" fill="url(#gHsc)"/>
<circle cx="368.4" cy="251.8" r="2.5" fill="url(#gHsc)"/>
<circle cx="377.7" cy="249.4" r="2.5" fill="url(#gHsc)"/>
<circle cx="387.2" cy="249.7" r="2.5" fill="url(#gHsc)"/>
<circle cx="397.5" cy="248.7" r="2.5" fill="url(#gHsc)"/>
<circle cx="412" cy="248.7" r="2.5" fill="url(#gHsc)"/>
<circle cx="421.4" cy="248.7" r="2.5" fill="url(#gHsc)"/>
<circle cx="428.7" cy="248.1" r="2.5" fill="url(#gHsc)"/>
<circle cx="438.7" cy="247.6" r="2.5" fill="url(#gHsc)"/>
<ellipse cx="382.2" cy="259.9" rx="2.2" ry="1.3" transform="rotate(-35 382.2 259.9)" fill="#c4183a"/>
<ellipse cx="395.2" cy="259.8" rx="2.2" ry="1.3" transform="rotate(-35 395.2 259.8)" fill="#c4183a"/>
<ellipse cx="404.7" cy="259.3" rx="2.2" ry="1.3" transform="rotate(35 404.7 259.3)" fill="#c4183a"/>
<ellipse cx="411.4" cy="259" rx="2.2" ry="1.3" transform="rotate(35 411.4 259)" fill="#c4183a"/>
<circle cx="420.9" cy="258.7" r="2.95" fill="url(#gEry)"/>
<ellipse cx="429.2" cy="259.8" rx="2.2" ry="1.3" transform="rotate(35 429.2 259.8)" fill="#c4183a"/>
<ellipse cx="441" cy="258.7" rx="2.2" ry="1.3" transform="rotate(35 441 258.7)" fill="#c4183a"/>
<path d="M67,186 C66,182 62,179.3 56,179.3 C46,179.3 35,183 27,191 C20,198 17,207 18,216 C19,226 23,235 31,239.5 C34,241 38,240 40,236 L48,222 L55,200 L68,194 Z" fill="#9cafdf" stroke="#7f95d0" stroke-width="0.7"/>
<path d="M66,188.6 C58,189.5 50,191.5 44,194.5 C38,198 33,203 30.5,209.5 C28,215 27,221 28,229" fill="none" stroke="#1e3a8a" stroke-width="1.15"/>
<path d="M30.5,209.5 C26,212 24.5,215.5 26.5,221 C27.5,225 29,229 31,232" fill="none" stroke="#23408f" stroke-width="0.9"/>
<line x1="55.1" y1="190.6" x2="51.6" y2="181.7" stroke="#1e3a8a" stroke-width="1.0"/>
<line x1="47.3" y1="193" x2="43.1" y2="183.8" stroke="#1e3a8a" stroke-width="1.0"/>
<line x1="40.2" y1="197.3" x2="35.3" y2="188" stroke="#1e3a8a" stroke-width="1.0"/>
<line x1="33.9" y1="202.2" x2="27.5" y2="194.4" stroke="#1e3a8a" stroke-width="1.0"/>
<line x1="29.6" y1="207.9" x2="22.5" y2="203.7" stroke="#1e3a8a" stroke-width="1.0"/>
<line x1="26.5" y1="218" x2="20.5" y2="218" stroke="#1e3a8a" stroke-width="1.0"/>
<line x1="27.8" y1="226" x2="22" y2="229" stroke="#1e3a8a" stroke-width="1.0"/>
<ellipse cx="65.8" cy="221.6" rx="30.6" ry="31.6" fill="#f2ba2c"/>
<ellipse cx="65.6" cy="221.6" rx="29.9" ry="30.9" fill="url(#gMRing)"/>
<ellipse cx="63.4" cy="220.6" rx="25.8" ry="26.8" fill="url(#gMYolk)"/>
<path d="M70,203 C80,202 88,212 88.5,225 C89,238 83,247 73,248 C64,249 57,244 55,236 C55,234 57,233 59,234 C62,236 66,236 68,234 C71,231 71,227 68,224 C65,221 62,219 62,214 C62,208 65,203 70,203 Z" fill="url(#gMEmb)"/>
<path d="M66,210 C66,207 68,206 71,206" fill="none" stroke="#fde4dc" stroke-width="1.6" opacity="0.7"/>
<circle cx="73.6" cy="231" r="3.2" fill="#e8566e" opacity="0.75"/>
<path d="M37,212 C45,214 52,219 58,225 C61,228 64,231 68,232" fill="none" stroke="#f6cf50" stroke-width="2.4"/>
<path d="M31,208.8 C38,209.5 46,212 53,217 C59,221.5 64,226 73.5,230" fill="none" stroke="#23408f" stroke-width="1"/>
<circle cx="66.4" cy="240.5" r="0.9" fill="#111"/>
<line x1="66.4" y1="240.5" x2="66.4" y2="259.4" stroke="#333" stroke-width="0.6"/>
<circle cx="73.7" cy="230.2" r="0.9" fill="#111"/>
<line x1="73.7" y1="230.2" x2="86.4" y2="244.2" stroke="#333" stroke-width="0.6"/>
<line x1="79.3" y1="183.5" x2="76.5" y2="190.2" stroke="#111" stroke-width="0.7"/>
<text x="14.1" y="182" font-size="6.6" font-weight="bold" font-style="normal" fill="#1a1a1a" text-anchor="start" textLength="25.7" lengthAdjust="spacingAndGlyphs" stroke="#1a1a1a" stroke-width="0.22">Placenta</text>
<text x="75.1" y="182" font-size="6.6" font-weight="bold" font-style="normal" fill="#1a1a1a" text-anchor="start" textLength="24.4" lengthAdjust="spacingAndGlyphs" stroke="#1a1a1a" stroke-width="0.22">Yolk sac</text>
<text x="85.8" y="253.3" font-size="6.4" font-weight="bold" font-style="normal" fill="#1a1a1a" text-anchor="start" textLength="14.9" lengthAdjust="spacingAndGlyphs" stroke="#1a1a1a" stroke-width="0.22">Liver</text>
<text x="61.3" y="265.6" font-size="6.2" font-weight="bold" font-style="normal" fill="#1a1a1a" text-anchor="start" textLength="15.8" lengthAdjust="spacingAndGlyphs" stroke="#1a1a1a" stroke-width="0.22">AGM</text>
<g transform="translate(460.5,160.9) scale(0.95) translate(-460.5,-160.9)">
<circle cx="460.5" cy="160.9" r="2.5" fill="url(#gHsc)"/>
</g>
<text x="467" y="163.1" font-size="6.3" font-weight="bold" font-style="normal" fill="#222" text-anchor="start" textLength="11.5" lengthAdjust="spacingAndGlyphs" stroke="#222" stroke-width="0.22">HSC</text>
<g transform="translate(460.5,170.8) scale(0.95) translate(-460.5,-170.8)">
<circle cx="460.5" cy="170.8" r="2.4" fill="url(#gYsmp)"/>
</g>
<text x="467" y="173.0" font-size="6.3" font-weight="normal" font-style="normal" fill="#3a3a3a" text-anchor="start" textLength="39" lengthAdjust="spacingAndGlyphs">YSMP (human)</text>
<g transform="translate(460.5,177.3) scale(0.95) translate(-460.5,-177.3)">
<circle cx="460.5" cy="177.3" r="2.5" fill="url(#gEmp)"/>
</g>
<text x="467" y="179.5" font-size="6.3" font-weight="normal" font-style="normal" fill="#3a3a3a" text-anchor="start" textLength="34.6" lengthAdjust="spacingAndGlyphs">EMP (mouse)</text>
<g transform="translate(460.5,183.5) scale(0.95) translate(-460.5,-183.5)">
<circle cx="460.5" cy="183.5" r="2.2" fill="url(#gLmp)"/>
</g>
<text x="467" y="185.7" font-size="6.3" font-weight="normal" font-style="normal" fill="#3a3a3a" text-anchor="start" textLength="11.5" lengthAdjust="spacingAndGlyphs">LMP</text>
<circle cx="461" cy="192.4" r="3.2" fill="url(#gPrim)"/>
<circle cx="461" cy="198.6" r="3.2" fill="url(#gPrimB)"/>
<line x1="467.3" y1="190" x2="467.3" y2="200" stroke="#777" stroke-width="0.6"/>
<text x="468" y="195.6" font-size="6.3" font-weight="normal" font-style="normal" fill="#3a3a3a" text-anchor="start" textLength="32" lengthAdjust="spacingAndGlyphs">Primitive Ery</text>
<g transform="translate(460.5,205) scale(0.85) translate(-460.5,-205)">
<circle cx="460.5" cy="205" r="2.95" fill="url(#gEry)"/>
</g>
<text x="467" y="207.2" font-size="6.3" font-weight="normal" font-style="normal" fill="#3a3a3a" text-anchor="start" textLength="38" lengthAdjust="spacingAndGlyphs">Fetal-adult Ery</text>
<g transform="translate(460.5,210.8) scale(0.8) translate(-460.5,-210.8)">
<circle cx="460.5" cy="210.8" r="3.9" fill="url(#gMk)"/>
</g>
<text x="467" y="213.0" font-size="6.3" font-weight="normal" font-style="normal" fill="#3a3a3a" text-anchor="start" textLength="38.5" lengthAdjust="spacingAndGlyphs">Megakaryocyte</text>
<g transform="translate(460.5,217.3) scale(0.8) translate(-460.5,-217.3)">
<circle cx="460.5" cy="217.3" r="3.2" fill="url(#gGran)"/>
<circle cx="460.5" cy="217.3" r="1.6" fill="none" stroke="#d8609a" stroke-width="0.9" opacity="0.8"/>
</g>
<text x="467" y="219.5" font-size="6.3" font-weight="normal" font-style="normal" fill="#3a3a3a" text-anchor="start" textLength="32" lengthAdjust="spacingAndGlyphs">Granulocyte</text>
<g transform="translate(460.5,224) scale(0.8) translate(-460.5,-224)">
<circle cx="460.5" cy="224" r="2.0" fill="url(#gLym)"/>
</g>
<text x="467" y="226.2" font-size="6.3" font-weight="normal" font-style="normal" fill="#3a3a3a" text-anchor="start" textLength="24.5" lengthAdjust="spacingAndGlyphs">Lymphoid</text>
<g transform="translate(460.5,231) scale(0.8) translate(-460.5,-231)">
<circle cx="460.5" cy="231" r="3.9" fill="url(#gMono)"/>
</g>
<text x="467" y="233.2" font-size="6.3" font-weight="normal" font-style="normal" fill="#3a3a3a" text-anchor="start" textLength="26" lengthAdjust="spacingAndGlyphs">Mono/Mφ</text>
<g transform="translate(460.5,238.3) scale(0.8) translate(-460.5,-238.3)">
<circle cx="460.5" cy="238.3" r="4" fill="url(#gStarG)"/>
<line x1="457.56" y1="236.60" x2="463.44" y2="240.00" stroke="#d99a52" stroke-width="0.8" stroke-linecap="round" opacity="0.5"/>
<line x1="459.91" y1="234.95" x2="461.09" y2="241.65" stroke="#d99a52" stroke-width="0.8" stroke-linecap="round" opacity="0.5"/>
<line x1="462.90" y1="235.90" x2="458.10" y2="240.70" stroke="#d99a52" stroke-width="0.8" stroke-linecap="round" opacity="0.5"/>
<line x1="463.78" y1="237.42" x2="457.22" y2="239.18" stroke="#d99a52" stroke-width="0.8" stroke-linecap="round" opacity="0.5"/>
<circle cx="460.5" cy="238.3" r="1.8" fill="url(#gStarC)"/>
</g>
<text x="467" y="240.5" font-size="6.3" font-weight="normal" font-style="normal" fill="#3a3a3a" text-anchor="start" textLength="42" lengthAdjust="spacingAndGlyphs">Microglia (brain)</text>
<g transform="translate(460.5,246.5) scale(0.8) translate(-460.5,-246.5)">
<circle cx="460.5" cy="246.5" r="3.3" fill="url(#gHof)"/>
</g>
<text x="467" y="247.5" font-size="6.3" font-weight="normal" font-style="normal" fill="#3a3a3a" text-anchor="start" textLength="24" lengthAdjust="spacingAndGlyphs">Hofbauer</text>
<text x="467" y="253" font-size="6.3" font-weight="normal" font-style="normal" fill="#3a3a3a" text-anchor="start" textLength="25" lengthAdjust="spacingAndGlyphs">(placenta)</text>
<g transform="translate(460.5,258.5) scale(0.8) translate(-460.5,-258.5)">
<circle cx="460.5" cy="258.5" r="4.4" fill="url(#gPeach)"/>
<line x1="457.56" y1="256.80" x2="463.44" y2="260.20" stroke="#ebc080" stroke-width="0.8" stroke-linecap="round" opacity="0.4"/>
<line x1="459.91" y1="255.15" x2="461.09" y2="261.85" stroke="#ebc080" stroke-width="0.8" stroke-linecap="round" opacity="0.4"/>
<line x1="462.90" y1="256.10" x2="458.10" y2="260.90" stroke="#ebc080" stroke-width="0.8" stroke-linecap="round" opacity="0.4"/>
<line x1="463.78" y1="257.62" x2="457.22" y2="259.38" stroke="#ebc080" stroke-width="0.8" stroke-linecap="round" opacity="0.4"/>
<circle cx="460.5" cy="258.5" r="1.8" fill="url(#gPeachC)"/>
</g>
<text x="467" y="260.3" font-size="6.3" font-weight="normal" font-style="normal" fill="#3a3a3a" text-anchor="start" textLength="15" lengthAdjust="spacingAndGlyphs">Other</text>
<text x="467" y="265.8" font-size="6.3" font-weight="normal" font-style="normal" fill="#3a3a3a" text-anchor="start" textLength="38" lengthAdjust="spacingAndGlyphs">tissue-resident</text>
<text x="467" y="271.2" font-size="6.3" font-weight="normal" font-style="normal" fill="#3a3a3a" text-anchor="start" textLength="35" lengthAdjust="spacingAndGlyphs">macrophages</text>
</svg></body></html>
